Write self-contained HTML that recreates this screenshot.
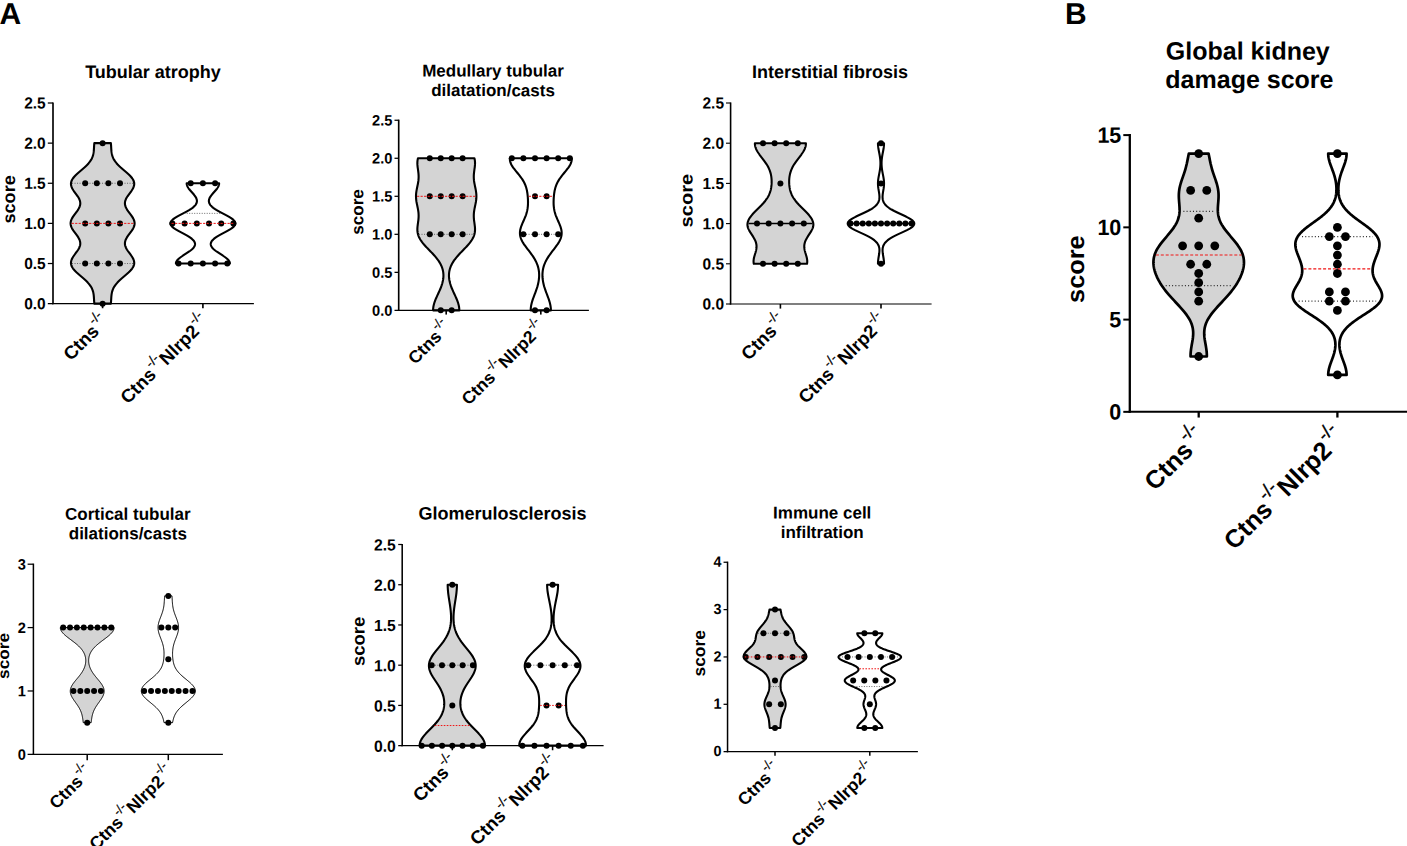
<!DOCTYPE html>
<html><head><meta charset="utf-8"><title>Figure</title>
<style>
html,body{margin:0;padding:0;background:#fff;}
svg{display:block;font-family:"Liberation Sans", sans-serif;}
</style></head>
<body>
<svg width="1407" height="846" viewBox="0 0 1407 846">
<rect width="1407" height="846" fill="#fff"/>
<text transform="translate(153 78) rotate(0.05)" font-size="18" text-anchor="middle" font-weight="bold">Tubular atrophy</text>
<text transform="translate(15.1 199.4) rotate(-90.05) scale(1.0226 1)" font-size="17.7" text-anchor="middle" font-weight="bold">score</text>
<path d="M94.34 303.65 L94.24 302.65 L94.16 301.64 L94.09 300.64 L94.04 299.64 L93.98 298.63 L93.92 297.63 L93.85 296.63 L93.76 295.62 L93.64 294.62 L93.49 293.62 L93.29 292.61 L93.05 291.61 L92.75 290.61 L92.39 289.6 L91.96 288.6 L91.45 287.6 L90.87 286.59 L90.21 285.59 L89.47 284.59 L88.65 283.58 L87.76 282.58 L86.8 281.58 L85.78 280.58 L84.7 279.57 L83.58 278.57 L82.43 277.57 L81.26 276.56 L80.08 275.56 L78.92 274.56 L77.78 273.55 L76.69 272.55 L75.65 271.55 L74.69 270.54 L73.82 269.54 L73.04 268.54 L72.38 267.53 L71.84 266.53 L71.42 265.53 L71.14 264.52 L70.99 263.52 L70.98 262.52 L71.1 261.51 L71.34 260.51 L71.69 259.51 L72.15 258.5 L72.7 257.5 L73.33 256.5 L74.02 255.49 L74.74 254.49 L75.49 253.49 L76.23 252.48 L76.96 251.48 L77.66 250.48 L78.3 249.47 L78.87 248.47 L79.36 247.47 L79.76 246.46 L80.05 245.46 L80.22 244.46 L80.28 243.45 L80.22 242.45 L80.04 241.45 L79.75 240.45 L79.36 239.44 L78.86 238.44 L78.29 237.44 L77.64 236.43 L76.94 235.43 L76.2 234.43 L75.45 233.42 L74.69 232.42 L73.95 231.42 L73.25 230.41 L72.6 229.41 L72.02 228.41 L71.53 227.4 L71.13 226.4 L70.84 225.4 L70.66 224.39 L70.6 223.39 L70.66 222.39 L70.84 221.38 L71.13 220.38 L71.53 219.38 L72.02 218.37 L72.6 217.37 L73.25 216.37 L73.95 215.36 L74.69 214.36 L75.45 213.36 L76.2 212.35 L76.94 211.35 L77.64 210.35 L78.29 209.34 L78.86 208.34 L79.36 207.34 L79.75 206.33 L80.04 205.33 L80.22 204.33 L80.28 203.32 L80.22 202.32 L80.05 201.32 L79.76 200.32 L79.36 199.31 L78.87 198.31 L78.3 197.31 L77.66 196.3 L76.96 195.3 L76.23 194.3 L75.49 193.29 L74.74 192.29 L74.02 191.29 L73.33 190.28 L72.7 189.28 L72.15 188.28 L71.69 187.27 L71.34 186.27 L71.1 185.27 L70.98 184.26 L70.99 183.26 L71.14 182.26 L71.42 181.25 L71.84 180.25 L72.38 179.25 L73.04 178.24 L73.82 177.24 L74.69 176.24 L75.65 175.23 L76.69 174.23 L77.78 173.23 L78.92 172.22 L80.08 171.22 L81.26 170.22 L82.43 169.21 L83.58 168.21 L84.7 167.21 L85.78 166.2 L86.8 165.2 L87.76 164.2 L88.65 163.19 L89.47 162.19 L90.21 161.19 L90.87 160.19 L91.45 159.18 L91.96 158.18 L92.39 157.18 L92.75 156.17 L93.05 155.17 L93.29 154.17 L93.49 153.16 L93.64 152.16 L93.76 151.16 L93.85 150.15 L93.92 149.15 L93.98 148.15 L94.04 147.14 L94.09 146.14 L94.16 145.14 L94.24 144.13 L94.34 143.13 L110.86 143.13 L110.96 144.13 L111.04 145.14 L111.11 146.14 L111.16 147.14 L111.22 148.15 L111.28 149.15 L111.35 150.15 L111.44 151.16 L111.56 152.16 L111.71 153.16 L111.91 154.17 L112.15 155.17 L112.45 156.17 L112.81 157.18 L113.24 158.18 L113.75 159.18 L114.33 160.19 L114.99 161.19 L115.73 162.19 L116.55 163.19 L117.44 164.2 L118.4 165.2 L119.42 166.2 L120.5 167.21 L121.62 168.21 L122.77 169.21 L123.94 170.22 L125.12 171.22 L126.28 172.22 L127.42 173.23 L128.51 174.23 L129.55 175.23 L130.51 176.24 L131.38 177.24 L132.16 178.24 L132.82 179.25 L133.36 180.25 L133.78 181.25 L134.06 182.26 L134.21 183.26 L134.22 184.26 L134.1 185.27 L133.86 186.27 L133.51 187.27 L133.05 188.28 L132.5 189.28 L131.87 190.28 L131.18 191.29 L130.46 192.29 L129.71 193.29 L128.97 194.3 L128.24 195.3 L127.54 196.3 L126.9 197.31 L126.33 198.31 L125.84 199.31 L125.44 200.32 L125.15 201.32 L124.98 202.32 L124.92 203.32 L124.98 204.33 L125.16 205.33 L125.45 206.33 L125.84 207.34 L126.34 208.34 L126.91 209.34 L127.56 210.35 L128.26 211.35 L129 212.35 L129.75 213.36 L130.51 214.36 L131.25 215.36 L131.95 216.37 L132.6 217.37 L133.18 218.37 L133.67 219.38 L134.07 220.38 L134.36 221.38 L134.54 222.39 L134.6 223.39 L134.54 224.39 L134.36 225.4 L134.07 226.4 L133.67 227.4 L133.18 228.41 L132.6 229.41 L131.95 230.41 L131.25 231.42 L130.51 232.42 L129.75 233.42 L129 234.43 L128.26 235.43 L127.56 236.43 L126.91 237.44 L126.34 238.44 L125.84 239.44 L125.45 240.45 L125.16 241.45 L124.98 242.45 L124.92 243.45 L124.98 244.46 L125.15 245.46 L125.44 246.46 L125.84 247.47 L126.33 248.47 L126.9 249.47 L127.54 250.48 L128.24 251.48 L128.97 252.48 L129.71 253.49 L130.46 254.49 L131.18 255.49 L131.87 256.5 L132.5 257.5 L133.05 258.5 L133.51 259.51 L133.86 260.51 L134.1 261.51 L134.22 262.52 L134.21 263.52 L134.06 264.52 L133.78 265.53 L133.36 266.53 L132.82 267.53 L132.16 268.54 L131.38 269.54 L130.51 270.54 L129.55 271.55 L128.51 272.55 L127.42 273.55 L126.28 274.56 L125.12 275.56 L123.94 276.56 L122.77 277.57 L121.62 278.57 L120.5 279.57 L119.42 280.58 L118.4 281.58 L117.44 282.58 L116.55 283.58 L115.73 284.59 L114.99 285.59 L114.33 286.59 L113.75 287.6 L113.24 288.6 L112.81 289.6 L112.45 290.61 L112.15 291.61 L111.91 292.61 L111.71 293.62 L111.56 294.62 L111.44 295.62 L111.35 296.63 L111.28 297.63 L111.22 298.63 L111.16 299.64 L111.11 300.64 L111.04 301.64 L110.96 302.65 L110.86 303.65 Z" fill="#d4d4d4" stroke="#000" stroke-width="2.1" stroke-linejoin="round"/>
<line x1="72.04" y1="183.26" x2="133.16" y2="183.26" stroke="#505050" stroke-width="0.85" stroke-dasharray="1 1.5"/>
<line x1="72.04" y1="263.52" x2="133.16" y2="263.52" stroke="#505050" stroke-width="0.85" stroke-dasharray="1 1.5"/>
<circle cx="102.6" cy="143.13" r="3.0"/>
<circle cx="85.2" cy="183.26" r="3.0"/>
<circle cx="96.8" cy="183.26" r="3.0"/>
<circle cx="108.4" cy="183.26" r="3.0"/>
<circle cx="120" cy="183.26" r="3.0"/>
<circle cx="85.2" cy="223.39" r="3.0"/>
<circle cx="96.8" cy="223.39" r="3.0"/>
<circle cx="108.4" cy="223.39" r="3.0"/>
<circle cx="120" cy="223.39" r="3.0"/>
<circle cx="85.2" cy="263.52" r="3.0"/>
<circle cx="96.8" cy="263.52" r="3.0"/>
<circle cx="108.4" cy="263.52" r="3.0"/>
<circle cx="120" cy="263.52" r="3.0"/>
<circle cx="102.6" cy="303.65" r="3.0"/>
<line x1="71.65" y1="223.39" x2="133.55" y2="223.39" stroke="#f01414" stroke-width="1" stroke-dasharray="2.2 1.3"/>
<path d="M175.9 263.52 L175.93 263.02 L176.03 262.52 L176.2 262.02 L176.43 261.51 L176.72 261.01 L177.08 260.51 L177.49 260.01 L177.96 259.51 L178.47 259.01 L179.04 258.5 L179.65 258 L180.29 257.5 L180.97 257 L181.68 256.5 L182.42 256 L183.17 255.49 L183.93 254.99 L184.7 254.49 L185.48 253.99 L186.25 253.49 L187.01 252.99 L187.77 252.48 L188.5 251.98 L189.22 251.48 L189.91 250.98 L190.56 250.48 L191.19 249.98 L191.78 249.47 L192.33 248.97 L192.83 248.47 L193.29 247.97 L193.7 247.47 L194.05 246.97 L194.36 246.46 L194.61 245.96 L194.8 245.46 L194.94 244.96 L195.02 244.46 L195.04 243.96 L194.99 243.45 L194.89 242.95 L194.73 242.45 L194.5 241.95 L194.22 241.45 L193.88 240.95 L193.48 240.45 L193.02 239.94 L192.51 239.44 L191.94 238.94 L191.32 238.44 L190.66 237.94 L189.95 237.44 L189.19 236.93 L188.4 236.43 L187.57 235.93 L186.71 235.43 L185.82 234.93 L184.91 234.43 L183.98 233.92 L183.05 233.42 L182.1 232.92 L181.16 232.42 L180.22 231.92 L179.29 231.42 L178.38 230.91 L177.49 230.41 L176.63 229.91 L175.81 229.41 L175.03 228.91 L174.29 228.41 L173.61 227.9 L172.98 227.4 L172.42 226.9 L171.92 226.4 L171.49 225.9 L171.14 225.4 L170.86 224.89 L170.66 224.39 L170.54 223.89 L170.5 223.39 L170.54 222.89 L170.66 222.39 L170.86 221.89 L171.15 221.38 L171.5 220.88 L171.93 220.38 L172.43 219.88 L173 219.38 L173.63 218.88 L174.31 218.37 L175.05 217.87 L175.84 217.37 L176.67 216.87 L177.53 216.37 L178.43 215.87 L179.35 215.36 L180.29 214.86 L181.24 214.36 L182.2 213.86 L183.16 213.36 L184.12 212.86 L185.07 212.35 L186 211.85 L186.92 211.35 L187.81 210.85 L188.67 210.35 L189.51 209.85 L190.3 209.34 L191.07 208.84 L191.79 208.34 L192.47 207.84 L193.1 207.34 L193.69 206.84 L194.23 206.33 L194.72 205.83 L195.16 205.33 L195.55 204.83 L195.9 204.33 L196.19 203.83 L196.43 203.32 L196.62 202.82 L196.77 202.32 L196.86 201.82 L196.91 201.32 L196.92 200.82 L196.88 200.32 L196.79 199.81 L196.67 199.31 L196.5 198.81 L196.3 198.31 L196.07 197.81 L195.8 197.31 L195.5 196.8 L195.17 196.3 L194.82 195.8 L194.44 195.3 L194.05 194.8 L193.63 194.3 L193.21 193.79 L192.77 193.29 L192.33 192.79 L191.88 192.29 L191.43 191.79 L190.99 191.29 L190.55 190.78 L190.12 190.28 L189.7 189.78 L189.3 189.28 L188.92 188.78 L188.56 188.28 L188.22 187.77 L187.91 187.27 L187.64 186.77 L187.39 186.27 L187.18 185.77 L187.01 185.27 L186.87 184.76 L186.77 184.26 L186.71 183.76 L186.7 183.26 L219.1 183.26 L219.09 183.76 L219.03 184.26 L218.93 184.76 L218.79 185.27 L218.62 185.77 L218.41 186.27 L218.16 186.77 L217.89 187.27 L217.58 187.77 L217.24 188.28 L216.88 188.78 L216.5 189.28 L216.1 189.78 L215.68 190.28 L215.25 190.78 L214.81 191.29 L214.37 191.79 L213.92 192.29 L213.47 192.79 L213.03 193.29 L212.59 193.79 L212.17 194.3 L211.75 194.8 L211.36 195.3 L210.98 195.8 L210.63 196.3 L210.3 196.8 L210 197.31 L209.73 197.81 L209.5 198.31 L209.3 198.81 L209.13 199.31 L209.01 199.81 L208.92 200.32 L208.88 200.82 L208.89 201.32 L208.94 201.82 L209.03 202.32 L209.18 202.82 L209.37 203.32 L209.61 203.83 L209.9 204.33 L210.25 204.83 L210.64 205.33 L211.08 205.83 L211.57 206.33 L212.11 206.84 L212.7 207.34 L213.33 207.84 L214.01 208.34 L214.73 208.84 L215.5 209.34 L216.29 209.85 L217.13 210.35 L217.99 210.85 L218.88 211.35 L219.8 211.85 L220.73 212.35 L221.68 212.86 L222.64 213.36 L223.6 213.86 L224.56 214.36 L225.51 214.86 L226.45 215.36 L227.37 215.87 L228.27 216.37 L229.13 216.87 L229.96 217.37 L230.75 217.87 L231.49 218.37 L232.17 218.88 L232.8 219.38 L233.37 219.88 L233.87 220.38 L234.3 220.88 L234.65 221.38 L234.94 221.89 L235.14 222.39 L235.26 222.89 L235.3 223.39 L235.26 223.89 L235.14 224.39 L234.94 224.89 L234.66 225.4 L234.31 225.9 L233.88 226.4 L233.38 226.9 L232.82 227.4 L232.19 227.9 L231.51 228.41 L230.77 228.91 L229.99 229.41 L229.17 229.91 L228.31 230.41 L227.42 230.91 L226.51 231.42 L225.58 231.92 L224.64 232.42 L223.7 232.92 L222.75 233.42 L221.82 233.92 L220.89 234.43 L219.98 234.93 L219.09 235.43 L218.23 235.93 L217.4 236.43 L216.61 236.93 L215.85 237.44 L215.14 237.94 L214.48 238.44 L213.86 238.94 L213.29 239.44 L212.78 239.94 L212.32 240.45 L211.92 240.95 L211.58 241.45 L211.3 241.95 L211.07 242.45 L210.91 242.95 L210.81 243.45 L210.76 243.96 L210.78 244.46 L210.86 244.96 L211 245.46 L211.19 245.96 L211.44 246.46 L211.75 246.97 L212.1 247.47 L212.51 247.97 L212.97 248.47 L213.47 248.97 L214.02 249.47 L214.61 249.98 L215.24 250.48 L215.89 250.98 L216.58 251.48 L217.3 251.98 L218.03 252.48 L218.79 252.99 L219.55 253.49 L220.32 253.99 L221.1 254.49 L221.87 254.99 L222.63 255.49 L223.38 256 L224.12 256.5 L224.83 257 L225.51 257.5 L226.15 258 L226.76 258.5 L227.33 259.01 L227.84 259.51 L228.31 260.01 L228.72 260.51 L229.08 261.01 L229.37 261.51 L229.6 262.02 L229.77 262.52 L229.87 263.02 L229.9 263.52 Z" fill="#fff" stroke="#000" stroke-width="2.1" stroke-linejoin="round"/>
<line x1="184.21" y1="213.36" x2="221.59" y2="213.36" stroke="#505050" stroke-width="0.85" stroke-dasharray="1 1.5"/>
<circle cx="190.7" cy="183.26" r="3.0"/>
<circle cx="202.9" cy="183.26" r="3.0"/>
<circle cx="215.1" cy="183.26" r="3.0"/>
<circle cx="172.4" cy="223.39" r="3.0"/>
<circle cx="184.6" cy="223.39" r="3.0"/>
<circle cx="196.8" cy="223.39" r="3.0"/>
<circle cx="209" cy="223.39" r="3.0"/>
<circle cx="221.2" cy="223.39" r="3.0"/>
<circle cx="233.4" cy="223.39" r="3.0"/>
<circle cx="178.5" cy="263.52" r="3.0"/>
<circle cx="190.7" cy="263.52" r="3.0"/>
<circle cx="202.9" cy="263.52" r="3.0"/>
<circle cx="215.1" cy="263.52" r="3.0"/>
<circle cx="227.3" cy="263.52" r="3.0"/>
<line x1="171.55" y1="223.39" x2="234.25" y2="223.39" stroke="#f01414" stroke-width="1" stroke-dasharray="2.2 1.3"/>
<line x1="53" y1="102.38" x2="53" y2="304.27" stroke="#000" stroke-width="1.65"/>
<line x1="52.17" y1="303.65" x2="253.9" y2="303.65" stroke="#000" stroke-width="1.25"/>
<line x1="47.8" y1="303.65" x2="53" y2="303.65" stroke="#000" stroke-width="1.25"/>
<text transform="translate(45.7 309.26) rotate(0.05) scale(1 1.03)" font-size="15.5" text-anchor="end" font-weight="bold">0.0</text>
<line x1="47.8" y1="263.52" x2="53" y2="263.52" stroke="#000" stroke-width="1.25"/>
<text transform="translate(45.7 269.13) rotate(0.05) scale(1 1.03)" font-size="15.5" text-anchor="end" font-weight="bold">0.5</text>
<line x1="47.8" y1="223.39" x2="53" y2="223.39" stroke="#000" stroke-width="1.25"/>
<text transform="translate(45.7 229) rotate(0.05) scale(1 1.03)" font-size="15.5" text-anchor="end" font-weight="bold">1.0</text>
<line x1="47.8" y1="183.26" x2="53" y2="183.26" stroke="#000" stroke-width="1.25"/>
<text transform="translate(45.7 188.87) rotate(0.05) scale(1 1.03)" font-size="15.5" text-anchor="end" font-weight="bold">1.5</text>
<line x1="47.8" y1="143.13" x2="53" y2="143.13" stroke="#000" stroke-width="1.25"/>
<text transform="translate(45.7 148.74) rotate(0.05) scale(1 1.03)" font-size="15.5" text-anchor="end" font-weight="bold">2.0</text>
<line x1="47.8" y1="103" x2="53" y2="103" stroke="#000" stroke-width="1.25"/>
<text transform="translate(45.7 108.61) rotate(0.05) scale(1 1.03)" font-size="15.5" text-anchor="end" font-weight="bold">2.5</text>
<line x1="102.6" y1="303.65" x2="102.6" y2="308.25" stroke="#000" stroke-width="1.65"/>
<text transform="translate(109.6 322.85) rotate(-45)" font-size="18.5" text-anchor="end" font-weight="bold">Ctns<tspan font-weight="normal" stroke="#000" stroke-width="0.2" font-size="13.6" dx="0.74" dy="-9.62">-/-</tspan></text>
<line x1="202.9" y1="303.65" x2="202.9" y2="308.25" stroke="#000" stroke-width="1.65"/>
<text transform="translate(209.9 322.85) rotate(-45)" font-size="18.5" text-anchor="end" font-weight="bold">Ctns<tspan font-weight="normal" stroke="#000" stroke-width="0.2" font-size="13.6" dx="0.74" dy="-9.62">-/-</tspan><tspan dx="0.37" dy="9.62">Nlrp2</tspan><tspan font-weight="normal" stroke="#000" stroke-width="0.2" font-size="13.6" dx="0.74" dy="-9.62">-/-</tspan></text>
<text transform="translate(493 76.52) rotate(0.05)" font-size="17" text-anchor="middle" font-weight="bold">Medullary tubular</text>
<text transform="translate(493 96.12) rotate(0.05)" font-size="17" text-anchor="middle" font-weight="bold">dilatation/casts</text>
<text transform="translate(363.2 212) rotate(-90.05) scale(1.0000 1)" font-size="17.1" text-anchor="middle" font-weight="bold">score</text>
<path d="M433.08 310.37 L433.1 309.42 L433.17 308.47 L433.27 307.52 L433.41 306.57 L433.6 305.62 L433.82 304.67 L434.08 303.72 L434.36 302.77 L434.68 301.81 L435.03 300.86 L435.4 299.91 L435.79 298.96 L436.2 298.01 L436.62 297.06 L437.05 296.11 L437.49 295.16 L437.93 294.21 L438.37 293.26 L438.81 292.31 L439.24 291.36 L439.67 290.41 L440.08 289.46 L440.48 288.51 L440.86 287.56 L441.22 286.61 L441.56 285.65 L441.87 284.7 L442.17 283.75 L442.43 282.8 L442.67 281.85 L442.87 280.9 L443.05 279.95 L443.2 279 L443.31 278.05 L443.39 277.1 L443.43 276.15 L443.43 275.2 L443.4 274.25 L443.33 273.3 L443.23 272.35 L443.08 271.4 L442.89 270.44 L442.66 269.49 L442.38 268.54 L442.07 267.59 L441.71 266.64 L441.3 265.69 L440.85 264.74 L440.36 263.79 L439.82 262.84 L439.24 261.89 L438.62 260.94 L437.95 259.99 L437.25 259.04 L436.51 258.09 L435.73 257.14 L434.92 256.19 L434.08 255.24 L433.21 254.28 L432.33 253.33 L431.42 252.38 L430.51 251.43 L429.59 250.48 L428.66 249.53 L427.74 248.58 L426.83 247.63 L425.94 246.68 L425.07 245.73 L424.22 244.78 L423.41 243.83 L422.63 242.88 L421.9 241.93 L421.22 240.98 L420.58 240.03 L420 239.07 L419.48 238.12 L419.02 237.17 L418.61 236.22 L418.27 235.27 L417.98 234.32 L417.75 233.37 L417.58 232.42 L417.46 231.47 L417.39 230.52 L417.37 229.57 L417.38 228.62 L417.43 227.67 L417.51 226.72 L417.61 225.77 L417.73 224.82 L417.86 223.87 L417.99 222.91 L418.12 221.96 L418.25 221.01 L418.36 220.06 L418.46 219.11 L418.53 218.16 L418.59 217.21 L418.61 216.26 L418.61 215.31 L418.58 214.36 L418.52 213.41 L418.44 212.46 L418.33 211.51 L418.19 210.56 L418.03 209.61 L417.86 208.66 L417.67 207.71 L417.48 206.75 L417.28 205.8 L417.07 204.85 L416.88 203.9 L416.7 202.95 L416.52 202 L416.37 201.05 L416.24 200.1 L416.14 199.15 L416.06 198.2 L416.02 197.25 L416 196.3 L416.02 195.35 L416.06 194.4 L416.14 193.45 L416.24 192.5 L416.37 191.55 L416.52 190.59 L416.7 189.64 L416.88 188.69 L417.07 187.74 L417.28 186.79 L417.48 185.84 L417.67 184.89 L417.86 183.94 L418.03 182.99 L418.19 182.04 L418.33 181.09 L418.44 180.14 L418.52 179.19 L418.58 178.24 L418.61 177.29 L418.61 176.34 L418.59 175.38 L418.53 174.43 L418.46 173.48 L418.36 172.53 L418.25 171.58 L418.12 170.63 L417.99 169.68 L417.86 168.73 L417.73 167.78 L417.61 166.83 L417.51 165.88 L417.43 164.93 L417.38 163.98 L417.37 163.03 L417.39 162.08 L417.46 161.13 L417.58 160.18 L417.75 159.22 L417.98 158.27 L474.42 158.27 L474.65 159.22 L474.82 160.18 L474.94 161.13 L475.01 162.08 L475.03 163.03 L475.02 163.98 L474.97 164.93 L474.89 165.88 L474.79 166.83 L474.67 167.78 L474.54 168.73 L474.41 169.68 L474.28 170.63 L474.15 171.58 L474.04 172.53 L473.94 173.48 L473.87 174.43 L473.81 175.38 L473.79 176.34 L473.79 177.29 L473.82 178.24 L473.88 179.19 L473.96 180.14 L474.07 181.09 L474.21 182.04 L474.37 182.99 L474.54 183.94 L474.73 184.89 L474.92 185.84 L475.12 186.79 L475.33 187.74 L475.52 188.69 L475.7 189.64 L475.88 190.59 L476.03 191.55 L476.16 192.5 L476.26 193.45 L476.34 194.4 L476.38 195.35 L476.4 196.3 L476.38 197.25 L476.34 198.2 L476.26 199.15 L476.16 200.1 L476.03 201.05 L475.88 202 L475.7 202.95 L475.52 203.9 L475.33 204.85 L475.12 205.8 L474.92 206.75 L474.73 207.71 L474.54 208.66 L474.37 209.61 L474.21 210.56 L474.07 211.51 L473.96 212.46 L473.88 213.41 L473.82 214.36 L473.79 215.31 L473.79 216.26 L473.81 217.21 L473.87 218.16 L473.94 219.11 L474.04 220.06 L474.15 221.01 L474.28 221.96 L474.41 222.91 L474.54 223.87 L474.67 224.82 L474.79 225.77 L474.89 226.72 L474.97 227.67 L475.02 228.62 L475.03 229.57 L475.01 230.52 L474.94 231.47 L474.82 232.42 L474.65 233.37 L474.42 234.32 L474.13 235.27 L473.79 236.22 L473.38 237.17 L472.92 238.12 L472.4 239.07 L471.82 240.03 L471.18 240.98 L470.5 241.93 L469.77 242.88 L468.99 243.83 L468.18 244.78 L467.33 245.73 L466.46 246.68 L465.57 247.63 L464.66 248.58 L463.74 249.53 L462.81 250.48 L461.89 251.43 L460.98 252.38 L460.07 253.33 L459.19 254.28 L458.32 255.24 L457.48 256.19 L456.67 257.14 L455.89 258.09 L455.15 259.04 L454.45 259.99 L453.78 260.94 L453.16 261.89 L452.58 262.84 L452.04 263.79 L451.55 264.74 L451.1 265.69 L450.69 266.64 L450.33 267.59 L450.02 268.54 L449.74 269.49 L449.51 270.44 L449.32 271.4 L449.17 272.35 L449.07 273.3 L449 274.25 L448.97 275.2 L448.97 276.15 L449.01 277.1 L449.09 278.05 L449.2 279 L449.35 279.95 L449.53 280.9 L449.73 281.85 L449.97 282.8 L450.23 283.75 L450.53 284.7 L450.84 285.65 L451.18 286.61 L451.54 287.56 L451.92 288.51 L452.32 289.46 L452.73 290.41 L453.16 291.36 L453.59 292.31 L454.03 293.26 L454.47 294.21 L454.91 295.16 L455.35 296.11 L455.78 297.06 L456.2 298.01 L456.61 298.96 L457 299.91 L457.37 300.86 L457.72 301.81 L458.04 302.77 L458.32 303.72 L458.58 304.67 L458.8 305.62 L458.99 306.57 L459.13 307.52 L459.23 308.47 L459.3 309.42 L459.32 310.37 Z" fill="#d4d4d4" stroke="#000" stroke-width="2.1" stroke-linejoin="round"/>
<line x1="419.03" y1="234.32" x2="473.37" y2="234.32" stroke="#505050" stroke-width="0.85" stroke-dasharray="1 1.5"/>
<circle cx="429.77" cy="158.27" r="3.0"/>
<circle cx="440.72" cy="158.27" r="3.0"/>
<circle cx="451.68" cy="158.27" r="3.0"/>
<circle cx="462.62" cy="158.27" r="3.0"/>
<circle cx="429.77" cy="196.3" r="3.0"/>
<circle cx="440.72" cy="196.3" r="3.0"/>
<circle cx="451.68" cy="196.3" r="3.0"/>
<circle cx="462.62" cy="196.3" r="3.0"/>
<circle cx="429.77" cy="234.32" r="3.0"/>
<circle cx="440.72" cy="234.32" r="3.0"/>
<circle cx="451.68" cy="234.32" r="3.0"/>
<circle cx="462.62" cy="234.32" r="3.0"/>
<circle cx="440.72" cy="310.37" r="3.0"/>
<circle cx="451.68" cy="310.37" r="3.0"/>
<line x1="417.05" y1="196.3" x2="475.35" y2="196.3" stroke="#f01414" stroke-width="1" stroke-dasharray="2.2 1.3"/>
<path d="M530.7 310.37 L530.72 309.42 L530.77 308.47 L530.86 307.52 L530.98 306.57 L531.13 305.62 L531.32 304.67 L531.54 303.72 L531.78 302.77 L532.05 301.81 L532.33 300.86 L532.64 299.91 L532.97 298.96 L533.3 298.01 L533.65 297.06 L534.01 296.11 L534.37 295.16 L534.73 294.21 L535.09 293.26 L535.44 292.31 L535.79 291.36 L536.13 290.41 L536.46 289.46 L536.78 288.51 L537.08 287.56 L537.37 286.61 L537.63 285.65 L537.88 284.7 L538.11 283.75 L538.32 282.8 L538.51 281.85 L538.67 280.9 L538.81 279.95 L538.93 279 L539.02 278.05 L539.09 277.1 L539.13 276.15 L539.14 275.2 L539.13 274.25 L539.09 273.3 L539.02 272.35 L538.92 271.4 L538.79 270.44 L538.63 269.49 L538.44 268.54 L538.21 267.59 L537.96 266.64 L537.66 265.69 L537.34 264.74 L536.97 263.79 L536.58 262.84 L536.14 261.89 L535.68 260.94 L535.17 259.99 L534.64 259.04 L534.07 258.09 L533.47 257.14 L532.84 256.19 L532.19 255.24 L531.51 254.28 L530.82 253.33 L530.11 252.38 L529.38 251.43 L528.65 250.48 L527.92 249.53 L527.18 248.58 L526.46 247.63 L525.75 246.68 L525.06 245.73 L524.39 244.78 L523.75 243.83 L523.15 242.88 L522.59 241.93 L522.07 240.98 L521.61 240.03 L521.19 239.07 L520.83 238.12 L520.53 237.17 L520.29 236.22 L520.12 235.27 L520 234.32 L519.95 233.37 L519.96 232.42 L520.02 231.47 L520.14 230.52 L520.32 229.57 L520.54 228.62 L520.81 227.67 L521.11 226.72 L521.45 225.77 L521.82 224.82 L522.21 223.87 L522.62 222.91 L523.04 221.96 L523.46 221.01 L523.88 220.06 L524.3 219.11 L524.71 218.16 L525.1 217.21 L525.47 216.26 L525.83 215.31 L526.16 214.36 L526.46 213.41 L526.73 212.46 L526.98 211.51 L527.2 210.56 L527.39 209.61 L527.55 208.66 L527.68 207.71 L527.79 206.75 L527.87 205.8 L527.94 204.85 L527.98 203.9 L528 202.95 L528 202 L527.99 201.05 L527.96 200.1 L527.93 199.15 L527.87 198.2 L527.81 197.25 L527.73 196.3 L527.64 195.35 L527.53 194.4 L527.41 193.45 L527.27 192.5 L527.12 191.55 L526.94 190.59 L526.73 189.64 L526.5 188.69 L526.24 187.74 L525.94 186.79 L525.61 185.84 L525.25 184.89 L524.84 183.94 L524.4 182.99 L523.91 182.04 L523.38 181.09 L522.81 180.14 L522.2 179.19 L521.55 178.24 L520.87 177.29 L520.16 176.34 L519.42 175.38 L518.66 174.43 L517.89 173.48 L517.11 172.53 L516.33 171.58 L515.55 170.63 L514.79 169.68 L514.06 168.73 L513.36 167.78 L512.7 166.83 L512.09 165.88 L511.54 164.93 L511.06 163.98 L510.65 163.03 L510.32 162.08 L510.08 161.13 L509.92 160.18 L509.86 159.22 L509.9 158.27 L571.7 158.27 L571.74 159.22 L571.68 160.18 L571.52 161.13 L571.28 162.08 L570.95 163.03 L570.54 163.98 L570.06 164.93 L569.51 165.88 L568.9 166.83 L568.24 167.78 L567.54 168.73 L566.81 169.68 L566.05 170.63 L565.27 171.58 L564.49 172.53 L563.71 173.48 L562.94 174.43 L562.18 175.38 L561.44 176.34 L560.73 177.29 L560.05 178.24 L559.4 179.19 L558.79 180.14 L558.22 181.09 L557.69 182.04 L557.2 182.99 L556.76 183.94 L556.35 184.89 L555.99 185.84 L555.66 186.79 L555.36 187.74 L555.1 188.69 L554.87 189.64 L554.66 190.59 L554.48 191.55 L554.33 192.5 L554.19 193.45 L554.07 194.4 L553.96 195.35 L553.87 196.3 L553.79 197.25 L553.73 198.2 L553.67 199.15 L553.64 200.1 L553.61 201.05 L553.6 202 L553.6 202.95 L553.62 203.9 L553.66 204.85 L553.73 205.8 L553.81 206.75 L553.92 207.71 L554.05 208.66 L554.21 209.61 L554.4 210.56 L554.62 211.51 L554.87 212.46 L555.14 213.41 L555.44 214.36 L555.77 215.31 L556.13 216.26 L556.5 217.21 L556.89 218.16 L557.3 219.11 L557.72 220.06 L558.14 221.01 L558.56 221.96 L558.98 222.91 L559.39 223.87 L559.78 224.82 L560.15 225.77 L560.49 226.72 L560.79 227.67 L561.06 228.62 L561.28 229.57 L561.46 230.52 L561.58 231.47 L561.64 232.42 L561.65 233.37 L561.6 234.32 L561.48 235.27 L561.31 236.22 L561.07 237.17 L560.77 238.12 L560.41 239.07 L559.99 240.03 L559.53 240.98 L559.01 241.93 L558.45 242.88 L557.85 243.83 L557.21 244.78 L556.54 245.73 L555.85 246.68 L555.14 247.63 L554.42 248.58 L553.68 249.53 L552.95 250.48 L552.22 251.43 L551.49 252.38 L550.78 253.33 L550.09 254.28 L549.41 255.24 L548.76 256.19 L548.13 257.14 L547.53 258.09 L546.96 259.04 L546.43 259.99 L545.92 260.94 L545.46 261.89 L545.02 262.84 L544.63 263.79 L544.26 264.74 L543.94 265.69 L543.64 266.64 L543.39 267.59 L543.16 268.54 L542.97 269.49 L542.81 270.44 L542.68 271.4 L542.58 272.35 L542.51 273.3 L542.47 274.25 L542.46 275.2 L542.47 276.15 L542.51 277.1 L542.58 278.05 L542.67 279 L542.79 279.95 L542.93 280.9 L543.09 281.85 L543.28 282.8 L543.49 283.75 L543.72 284.7 L543.97 285.65 L544.23 286.61 L544.52 287.56 L544.82 288.51 L545.14 289.46 L545.47 290.41 L545.81 291.36 L546.16 292.31 L546.51 293.26 L546.87 294.21 L547.23 295.16 L547.59 296.11 L547.95 297.06 L548.3 298.01 L548.63 298.96 L548.96 299.91 L549.27 300.86 L549.55 301.81 L549.82 302.77 L550.06 303.72 L550.28 304.67 L550.47 305.62 L550.62 306.57 L550.74 307.52 L550.83 308.47 L550.88 309.42 L550.9 310.37 Z" fill="#fff" stroke="#000" stroke-width="2.1" stroke-linejoin="round"/>
<line x1="521.05" y1="234.32" x2="560.55" y2="234.32" stroke="#505050" stroke-width="0.85" stroke-dasharray="1 1.5"/>
<circle cx="511.8" cy="158.27" r="3.0"/>
<circle cx="523.4" cy="158.27" r="3.0"/>
<circle cx="535" cy="158.27" r="3.0"/>
<circle cx="546.6" cy="158.27" r="3.0"/>
<circle cx="558.2" cy="158.27" r="3.0"/>
<circle cx="569.8" cy="158.27" r="3.0"/>
<circle cx="535" cy="196.3" r="3.0"/>
<circle cx="546.6" cy="196.3" r="3.0"/>
<circle cx="523.4" cy="234.32" r="3.0"/>
<circle cx="535" cy="234.32" r="3.0"/>
<circle cx="546.6" cy="234.32" r="3.0"/>
<circle cx="558.2" cy="234.32" r="3.0"/>
<circle cx="535" cy="310.37" r="3.0"/>
<circle cx="546.6" cy="310.37" r="3.0"/>
<line x1="528.78" y1="196.3" x2="552.82" y2="196.3" stroke="#f01414" stroke-width="1" stroke-dasharray="2.2 1.3"/>
<line x1="398.7" y1="119.62" x2="398.7" y2="311" stroke="#000" stroke-width="1.65"/>
<line x1="397.88" y1="310.37" x2="588.9" y2="310.37" stroke="#000" stroke-width="1.25"/>
<line x1="394.5" y1="310.37" x2="398.7" y2="310.37" stroke="#000" stroke-width="1.25"/>
<text transform="translate(392.3 315.67) rotate(0.05) scale(1 1.03)" font-size="14.6" text-anchor="end" font-weight="bold">0.0</text>
<line x1="394.5" y1="272.35" x2="398.7" y2="272.35" stroke="#000" stroke-width="1.25"/>
<text transform="translate(392.3 277.65) rotate(0.05) scale(1 1.03)" font-size="14.6" text-anchor="end" font-weight="bold">0.5</text>
<line x1="394.5" y1="234.32" x2="398.7" y2="234.32" stroke="#000" stroke-width="1.25"/>
<text transform="translate(392.3 239.62) rotate(0.05) scale(1 1.03)" font-size="14.6" text-anchor="end" font-weight="bold">1.0</text>
<line x1="394.5" y1="196.3" x2="398.7" y2="196.3" stroke="#000" stroke-width="1.25"/>
<text transform="translate(392.3 201.6) rotate(0.05) scale(1 1.03)" font-size="14.6" text-anchor="end" font-weight="bold">1.5</text>
<line x1="394.5" y1="158.27" x2="398.7" y2="158.27" stroke="#000" stroke-width="1.25"/>
<text transform="translate(392.3 163.58) rotate(0.05) scale(1 1.03)" font-size="14.6" text-anchor="end" font-weight="bold">2.0</text>
<line x1="394.5" y1="120.25" x2="398.7" y2="120.25" stroke="#000" stroke-width="1.25"/>
<text transform="translate(392.3 125.55) rotate(0.05) scale(1 1.03)" font-size="14.6" text-anchor="end" font-weight="bold">2.5</text>
<line x1="446.2" y1="310.37" x2="446.2" y2="314.57" stroke="#000" stroke-width="1.65"/>
<text transform="translate(451.7 328.57) rotate(-45)" font-size="17.5" text-anchor="end" font-weight="bold">Ctns<tspan font-weight="normal" stroke="#000" stroke-width="0.19" font-size="12.86" dx="0.7" dy="-9.1">-/-</tspan></text>
<line x1="540.8" y1="310.37" x2="540.8" y2="314.57" stroke="#000" stroke-width="1.65"/>
<text transform="translate(546.3 328.57) rotate(-45)" font-size="17.5" text-anchor="end" font-weight="bold">Ctns<tspan font-weight="normal" stroke="#000" stroke-width="0.19" font-size="12.86" dx="0.7" dy="-9.1">-/-</tspan><tspan dx="0.35" dy="9.1">Nlrp2</tspan><tspan font-weight="normal" stroke="#000" stroke-width="0.19" font-size="12.86" dx="0.7" dy="-9.1">-/-</tspan></text>
<text transform="translate(830 78) rotate(0.05)" font-size="18" text-anchor="middle" font-weight="bold">Interstitial fibrosis</text>
<text transform="translate(692.5 200.6) rotate(-90.05) scale(1.1356 1)" font-size="17.7" text-anchor="middle" font-weight="bold">score</text>
<path d="M753.8 263.8 L753.67 263.05 L753.59 262.29 L753.55 261.54 L753.57 260.79 L753.62 260.03 L753.72 259.28 L753.85 258.52 L754.01 257.77 L754.19 257.02 L754.4 256.26 L754.61 255.51 L754.84 254.75 L755.07 254 L755.29 253.25 L755.52 252.49 L755.72 251.74 L755.92 250.99 L756.09 250.23 L756.24 249.48 L756.36 248.72 L756.45 247.97 L756.51 247.22 L756.53 246.46 L756.51 245.71 L756.44 244.96 L756.34 244.2 L756.19 243.45 L755.99 242.69 L755.75 241.94 L755.47 241.19 L755.15 240.43 L754.8 239.68 L754.41 238.93 L754 238.17 L753.55 237.42 L753.09 236.66 L752.62 235.91 L752.13 235.16 L751.64 234.4 L751.14 233.65 L750.66 232.9 L750.18 232.14 L749.73 231.39 L749.3 230.63 L748.9 229.88 L748.53 229.13 L748.21 228.37 L747.94 227.62 L747.72 226.87 L747.56 226.11 L747.47 225.36 L747.43 224.6 L747.47 223.85 L747.58 223.1 L747.74 222.34 L747.95 221.59 L748.22 220.84 L748.54 220.08 L748.91 219.33 L749.33 218.57 L749.79 217.82 L750.31 217.07 L750.86 216.31 L751.45 215.56 L752.08 214.81 L752.74 214.05 L753.43 213.3 L754.14 212.55 L754.87 211.79 L755.62 211.04 L756.37 210.28 L757.14 209.53 L757.9 208.78 L758.67 208.02 L759.43 207.27 L760.18 206.52 L760.92 205.76 L761.65 205.01 L762.35 204.25 L763.04 203.5 L763.71 202.75 L764.35 201.99 L764.96 201.24 L765.55 200.48 L766.1 199.73 L766.63 198.98 L767.13 198.22 L767.6 197.47 L768.03 196.72 L768.44 195.96 L768.82 195.21 L769.17 194.45 L769.49 193.7 L769.78 192.95 L770.05 192.19 L770.29 191.44 L770.51 190.69 L770.71 189.93 L770.88 189.18 L771.03 188.43 L771.17 187.67 L771.28 186.92 L771.38 186.16 L771.46 185.41 L771.53 184.66 L771.58 183.9 L771.61 183.15 L771.63 182.4 L771.64 181.64 L771.63 180.89 L771.61 180.13 L771.57 179.38 L771.51 178.63 L771.44 177.87 L771.35 177.12 L771.25 176.37 L771.12 175.61 L770.98 174.86 L770.81 174.1 L770.63 173.35 L770.42 172.6 L770.19 171.84 L769.94 171.09 L769.67 170.33 L769.37 169.58 L769.04 168.83 L768.7 168.07 L768.32 167.32 L767.93 166.57 L767.51 165.81 L767.06 165.06 L766.6 164.31 L766.11 163.55 L765.6 162.8 L765.08 162.04 L764.54 161.29 L763.99 160.54 L763.43 159.78 L762.86 159.03 L762.29 158.28 L761.71 157.52 L761.13 156.77 L760.56 156.01 L760 155.26 L759.45 154.51 L758.92 153.75 L758.4 153 L757.91 152.25 L757.44 151.49 L757.01 150.74 L756.61 149.98 L756.24 149.23 L755.91 148.48 L755.63 147.72 L755.39 146.97 L755.19 146.22 L755.05 145.46 L754.95 144.71 L754.9 143.95 L754.91 143.2 L805.89 143.2 L805.9 143.95 L805.85 144.71 L805.75 145.46 L805.61 146.22 L805.41 146.97 L805.17 147.72 L804.89 148.48 L804.56 149.23 L804.19 149.98 L803.79 150.74 L803.36 151.49 L802.89 152.25 L802.4 153 L801.88 153.75 L801.35 154.51 L800.8 155.26 L800.24 156.01 L799.67 156.77 L799.09 157.52 L798.51 158.28 L797.94 159.03 L797.37 159.78 L796.81 160.54 L796.26 161.29 L795.72 162.04 L795.2 162.8 L794.69 163.55 L794.2 164.31 L793.74 165.06 L793.29 165.81 L792.87 166.57 L792.48 167.32 L792.1 168.07 L791.76 168.83 L791.43 169.58 L791.13 170.33 L790.86 171.09 L790.61 171.84 L790.38 172.6 L790.17 173.35 L789.99 174.1 L789.82 174.86 L789.68 175.61 L789.55 176.37 L789.45 177.12 L789.36 177.87 L789.29 178.63 L789.23 179.38 L789.19 180.13 L789.17 180.89 L789.16 181.64 L789.17 182.4 L789.19 183.15 L789.22 183.9 L789.27 184.66 L789.34 185.41 L789.42 186.16 L789.52 186.92 L789.63 187.67 L789.77 188.43 L789.92 189.18 L790.09 189.93 L790.29 190.69 L790.51 191.44 L790.75 192.19 L791.02 192.95 L791.31 193.7 L791.63 194.45 L791.98 195.21 L792.36 195.96 L792.77 196.72 L793.2 197.47 L793.67 198.22 L794.17 198.98 L794.7 199.73 L795.25 200.48 L795.84 201.24 L796.45 201.99 L797.09 202.75 L797.76 203.5 L798.45 204.25 L799.15 205.01 L799.88 205.76 L800.62 206.52 L801.37 207.27 L802.13 208.02 L802.9 208.78 L803.66 209.53 L804.43 210.28 L805.18 211.04 L805.93 211.79 L806.66 212.55 L807.37 213.3 L808.06 214.05 L808.72 214.81 L809.35 215.56 L809.94 216.31 L810.49 217.07 L811.01 217.82 L811.47 218.57 L811.89 219.33 L812.26 220.08 L812.58 220.84 L812.85 221.59 L813.06 222.34 L813.22 223.1 L813.33 223.85 L813.37 224.6 L813.33 225.36 L813.24 226.11 L813.08 226.87 L812.86 227.62 L812.59 228.37 L812.27 229.13 L811.9 229.88 L811.5 230.63 L811.07 231.39 L810.62 232.14 L810.14 232.9 L809.66 233.65 L809.16 234.4 L808.67 235.16 L808.18 235.91 L807.71 236.66 L807.25 237.42 L806.8 238.17 L806.39 238.93 L806 239.68 L805.65 240.43 L805.33 241.19 L805.05 241.94 L804.81 242.69 L804.61 243.45 L804.46 244.2 L804.36 244.96 L804.29 245.71 L804.27 246.46 L804.29 247.22 L804.35 247.97 L804.44 248.72 L804.56 249.48 L804.71 250.23 L804.88 250.99 L805.08 251.74 L805.28 252.49 L805.51 253.25 L805.73 254 L805.96 254.75 L806.19 255.51 L806.4 256.26 L806.61 257.02 L806.79 257.77 L806.95 258.52 L807.08 259.28 L807.18 260.03 L807.23 260.79 L807.25 261.54 L807.21 262.29 L807.13 263.05 L807 263.8 Z" fill="#d4d4d4" stroke="#000" stroke-width="2.1" stroke-linejoin="round"/>
<circle cx="763" cy="143.2" r="3.0"/>
<circle cx="774.6" cy="143.2" r="3.0"/>
<circle cx="786.2" cy="143.2" r="3.0"/>
<circle cx="797.8" cy="143.2" r="3.0"/>
<circle cx="780.4" cy="183.4" r="3.0"/>
<circle cx="757" cy="223.6" r="3.0"/>
<circle cx="768.7" cy="223.6" r="3.0"/>
<circle cx="780.4" cy="223.6" r="3.0"/>
<circle cx="792.1" cy="223.6" r="3.0"/>
<circle cx="803.8" cy="223.6" r="3.0"/>
<circle cx="763" cy="263.8" r="3.0"/>
<circle cx="774.6" cy="263.8" r="3.0"/>
<circle cx="786.2" cy="263.8" r="3.0"/>
<circle cx="797.8" cy="263.8" r="3.0"/>
<line x1="748.55" y1="223.6" x2="812.25" y2="223.6" stroke="#000" stroke-width="1.5"/>
<path d="M877.97 263.8 L877.98 263.05 L878.01 262.29 L878.05 261.54 L878.12 260.79 L878.2 260.03 L878.29 259.28 L878.4 258.52 L878.52 257.77 L878.64 257.02 L878.76 256.26 L878.89 255.51 L879.01 254.75 L879.12 254 L879.23 253.25 L879.31 252.49 L879.38 251.74 L879.43 250.99 L879.44 250.23 L879.43 249.48 L879.37 248.72 L879.27 247.97 L879.12 247.22 L878.91 246.46 L878.64 245.71 L878.31 244.96 L877.9 244.2 L877.41 243.45 L876.83 242.69 L876.16 241.94 L875.39 241.19 L874.53 240.43 L873.56 239.68 L872.49 238.93 L871.32 238.17 L870.05 237.42 L868.69 236.66 L867.25 235.91 L865.73 235.16 L864.16 234.4 L862.54 233.65 L860.9 232.9 L859.26 232.14 L857.64 231.39 L856.06 230.63 L854.56 229.88 L853.15 229.13 L851.85 228.37 L850.7 227.62 L849.71 226.87 L848.91 226.11 L848.3 225.36 L847.9 224.6 L847.71 223.85 L847.75 223.1 L848.01 222.34 L848.48 221.59 L849.15 220.84 L850.02 220.08 L851.07 219.33 L852.27 218.57 L853.61 217.82 L855.05 217.07 L856.58 216.31 L858.18 215.56 L859.81 214.81 L861.45 214.05 L863.08 213.3 L864.69 212.55 L866.24 211.79 L867.73 211.04 L869.15 210.28 L870.48 209.53 L871.72 208.78 L872.86 208.02 L873.89 207.27 L874.83 206.52 L875.66 205.76 L876.39 205.01 L877.03 204.25 L877.58 203.5 L878.04 202.75 L878.43 201.99 L878.74 201.24 L878.99 200.48 L879.17 199.73 L879.31 198.98 L879.39 198.22 L879.44 197.47 L879.44 196.72 L879.42 195.96 L879.36 195.21 L879.29 194.45 L879.19 193.7 L879.09 192.95 L878.97 192.19 L878.85 191.44 L878.72 190.69 L878.6 189.93 L878.48 189.18 L878.36 188.43 L878.26 187.67 L878.17 186.92 L878.1 186.16 L878.04 185.41 L878 184.66 L877.97 183.9 L877.97 183.15 L877.99 182.4 L878.03 181.64 L878.08 180.89 L878.15 180.13 L878.24 179.38 L878.35 178.63 L878.47 177.87 L878.59 177.12 L878.73 176.37 L878.87 175.61 L879.02 174.86 L879.16 174.1 L879.31 173.35 L879.45 172.6 L879.59 171.84 L879.72 171.09 L879.84 170.33 L879.96 169.58 L880.06 168.83 L880.15 168.07 L880.23 167.32 L880.3 166.57 L880.35 165.81 L880.39 165.06 L880.42 164.31 L880.43 163.55 L880.43 162.8 L880.41 162.04 L880.38 161.29 L880.34 160.54 L880.28 159.78 L880.21 159.03 L880.12 158.28 L880.03 157.52 L879.92 156.77 L879.8 156.01 L879.68 155.26 L879.54 154.51 L879.4 153.75 L879.26 153 L879.11 152.25 L878.97 151.49 L878.82 150.74 L878.68 149.98 L878.55 149.23 L878.43 148.48 L878.31 147.72 L878.21 146.97 L878.13 146.22 L878.06 145.46 L878.01 144.71 L877.98 143.95 L877.97 143.2 L884.03 143.2 L884.02 143.95 L883.99 144.71 L883.94 145.46 L883.87 146.22 L883.79 146.97 L883.69 147.72 L883.57 148.48 L883.45 149.23 L883.32 149.98 L883.18 150.74 L883.03 151.49 L882.89 152.25 L882.74 153 L882.6 153.75 L882.46 154.51 L882.32 155.26 L882.2 156.01 L882.08 156.77 L881.97 157.52 L881.88 158.28 L881.79 159.03 L881.72 159.78 L881.66 160.54 L881.62 161.29 L881.59 162.04 L881.57 162.8 L881.57 163.55 L881.58 164.31 L881.61 165.06 L881.65 165.81 L881.7 166.57 L881.77 167.32 L881.85 168.07 L881.94 168.83 L882.04 169.58 L882.16 170.33 L882.28 171.09 L882.41 171.84 L882.55 172.6 L882.69 173.35 L882.84 174.1 L882.98 174.86 L883.13 175.61 L883.27 176.37 L883.41 177.12 L883.53 177.87 L883.65 178.63 L883.76 179.38 L883.85 180.13 L883.92 180.89 L883.97 181.64 L884.01 182.4 L884.03 183.15 L884.03 183.9 L884 184.66 L883.96 185.41 L883.9 186.16 L883.83 186.92 L883.74 187.67 L883.64 188.43 L883.52 189.18 L883.4 189.93 L883.28 190.69 L883.15 191.44 L883.03 192.19 L882.91 192.95 L882.81 193.7 L882.71 194.45 L882.64 195.21 L882.58 195.96 L882.56 196.72 L882.56 197.47 L882.61 198.22 L882.69 198.98 L882.83 199.73 L883.01 200.48 L883.26 201.24 L883.57 201.99 L883.96 202.75 L884.42 203.5 L884.97 204.25 L885.61 205.01 L886.34 205.76 L887.17 206.52 L888.11 207.27 L889.14 208.02 L890.28 208.78 L891.52 209.53 L892.85 210.28 L894.27 211.04 L895.76 211.79 L897.31 212.55 L898.92 213.3 L900.55 214.05 L902.19 214.81 L903.82 215.56 L905.42 216.31 L906.95 217.07 L908.39 217.82 L909.73 218.57 L910.93 219.33 L911.98 220.08 L912.85 220.84 L913.52 221.59 L913.99 222.34 L914.25 223.1 L914.29 223.85 L914.1 224.6 L913.7 225.36 L913.09 226.11 L912.29 226.87 L911.3 227.62 L910.15 228.37 L908.85 229.13 L907.44 229.88 L905.94 230.63 L904.36 231.39 L902.74 232.14 L901.1 232.9 L899.46 233.65 L897.84 234.4 L896.27 235.16 L894.75 235.91 L893.31 236.66 L891.95 237.42 L890.68 238.17 L889.51 238.93 L888.44 239.68 L887.47 240.43 L886.61 241.19 L885.84 241.94 L885.17 242.69 L884.59 243.45 L884.1 244.2 L883.69 244.96 L883.36 245.71 L883.09 246.46 L882.88 247.22 L882.73 247.97 L882.63 248.72 L882.57 249.48 L882.56 250.23 L882.57 250.99 L882.62 251.74 L882.69 252.49 L882.77 253.25 L882.88 254 L882.99 254.75 L883.11 255.51 L883.24 256.26 L883.36 257.02 L883.48 257.77 L883.6 258.52 L883.71 259.28 L883.8 260.03 L883.88 260.79 L883.95 261.54 L883.99 262.29 L884.02 263.05 L884.03 263.8 Z" fill="#fff" stroke="#000" stroke-width="2.1" stroke-linejoin="round"/>
<circle cx="881" cy="143.2" r="3.0"/>
<circle cx="881" cy="183.4" r="3.0"/>
<circle cx="850.5" cy="223.6" r="3.0"/>
<circle cx="856.6" cy="223.6" r="3.0"/>
<circle cx="862.7" cy="223.6" r="3.0"/>
<circle cx="868.8" cy="223.6" r="3.0"/>
<circle cx="874.9" cy="223.6" r="3.0"/>
<circle cx="881" cy="223.6" r="3.0"/>
<circle cx="887.1" cy="223.6" r="3.0"/>
<circle cx="893.2" cy="223.6" r="3.0"/>
<circle cx="899.3" cy="223.6" r="3.0"/>
<circle cx="905.4" cy="223.6" r="3.0"/>
<circle cx="911.5" cy="223.6" r="3.0"/>
<circle cx="881" cy="263.8" r="3.0"/>
<line x1="848.75" y1="223.6" x2="913.25" y2="223.6" stroke="#000" stroke-width="1.5"/>
<line x1="730.6" y1="102.44" x2="730.6" y2="304.56" stroke="#000" stroke-width="1.6"/>
<line x1="729.8" y1="304" x2="931.6" y2="304" stroke="#000" stroke-width="1.12"/>
<line x1="726" y1="304" x2="730.6" y2="304" stroke="#000" stroke-width="1.12"/>
<text transform="translate(724 309.61) rotate(0.05) scale(1 1.03)" font-size="15.5" text-anchor="end" font-weight="bold">0.0</text>
<line x1="726" y1="263.8" x2="730.6" y2="263.8" stroke="#000" stroke-width="1.12"/>
<text transform="translate(724 269.41) rotate(0.05) scale(1 1.03)" font-size="15.5" text-anchor="end" font-weight="bold">0.5</text>
<line x1="726" y1="223.6" x2="730.6" y2="223.6" stroke="#000" stroke-width="1.12"/>
<text transform="translate(724 229.21) rotate(0.05) scale(1 1.03)" font-size="15.5" text-anchor="end" font-weight="bold">1.0</text>
<line x1="726" y1="183.4" x2="730.6" y2="183.4" stroke="#000" stroke-width="1.12"/>
<text transform="translate(724 189.01) rotate(0.05) scale(1 1.03)" font-size="15.5" text-anchor="end" font-weight="bold">1.5</text>
<line x1="726" y1="143.2" x2="730.6" y2="143.2" stroke="#000" stroke-width="1.12"/>
<text transform="translate(724 148.81) rotate(0.05) scale(1 1.03)" font-size="15.5" text-anchor="end" font-weight="bold">2.0</text>
<line x1="726" y1="103" x2="730.6" y2="103" stroke="#000" stroke-width="1.12"/>
<text transform="translate(724 108.61) rotate(0.05) scale(1 1.03)" font-size="15.5" text-anchor="end" font-weight="bold">2.5</text>
<line x1="780.4" y1="304" x2="780.4" y2="308.6" stroke="#000" stroke-width="1.6"/>
<text transform="translate(787.4 322.6) rotate(-45)" font-size="18.5" text-anchor="end" font-weight="bold">Ctns<tspan font-weight="normal" stroke="#000" stroke-width="0.2" font-size="13.6" dx="0.74" dy="-9.62">-/-</tspan></text>
<line x1="881" y1="304" x2="881" y2="308.6" stroke="#000" stroke-width="1.6"/>
<text transform="translate(888 322.6) rotate(-45)" font-size="18.5" text-anchor="end" font-weight="bold">Ctns<tspan font-weight="normal" stroke="#000" stroke-width="0.2" font-size="13.6" dx="0.74" dy="-9.62">-/-</tspan><tspan dx="0.37" dy="9.62">Nlrp2</tspan><tspan font-weight="normal" stroke="#000" stroke-width="0.2" font-size="13.6" dx="0.74" dy="-9.62">-/-</tspan></text>
<text transform="translate(127.8 519.75) rotate(0.05)" font-size="17" text-anchor="middle" font-weight="bold">Cortical tubular</text>
<text transform="translate(127.8 539.35) rotate(0.05)" font-size="17" text-anchor="middle" font-weight="bold">dilations/casts</text>
<text transform="translate(9 655.9) rotate(-90.05) scale(1.0849 1)" font-size="15.9" text-anchor="middle" font-weight="bold">score</text>
<path d="M83.26 722.67 L83.19 722.08 L83.11 721.49 L83.04 720.89 L82.96 720.3 L82.88 719.7 L82.8 719.11 L82.71 718.52 L82.61 717.92 L82.51 717.33 L82.4 716.73 L82.28 716.14 L82.15 715.54 L82.01 714.95 L81.85 714.36 L81.68 713.76 L81.5 713.17 L81.3 712.57 L81.09 711.98 L80.85 711.38 L80.61 710.79 L80.34 710.2 L80.06 709.6 L79.76 709.01 L79.44 708.41 L79.11 707.82 L78.76 707.22 L78.4 706.63 L78.02 706.04 L77.63 705.44 L77.23 704.85 L76.82 704.25 L76.4 703.66 L75.98 703.06 L75.55 702.47 L75.13 701.88 L74.7 701.28 L74.28 700.69 L73.87 700.09 L73.47 699.5 L73.08 698.9 L72.7 698.31 L72.35 697.72 L72.01 697.12 L71.7 696.53 L71.41 695.93 L71.15 695.34 L70.92 694.74 L70.73 694.15 L70.56 693.56 L70.43 692.96 L70.34 692.37 L70.29 691.77 L70.27 691.18 L70.29 690.58 L70.35 689.99 L70.45 689.4 L70.58 688.8 L70.75 688.21 L70.96 687.61 L71.2 687.02 L71.48 686.42 L71.78 685.83 L72.12 685.24 L72.48 684.64 L72.87 684.05 L73.28 683.45 L73.71 682.86 L74.16 682.26 L74.62 681.67 L75.09 681.08 L75.58 680.48 L76.07 679.89 L76.56 679.29 L77.06 678.7 L77.56 678.1 L78.05 677.51 L78.54 676.92 L79.02 676.32 L79.49 675.73 L79.95 675.13 L80.4 674.54 L80.83 673.94 L81.25 673.35 L81.66 672.76 L82.05 672.16 L82.42 671.57 L82.77 670.97 L83.1 670.38 L83.41 669.78 L83.71 669.19 L83.98 668.6 L84.23 668 L84.47 667.41 L84.68 666.81 L84.88 666.22 L85.05 665.62 L85.2 665.03 L85.34 664.44 L85.46 663.84 L85.55 663.25 L85.63 662.65 L85.69 662.06 L85.73 661.46 L85.75 660.87 L85.75 660.28 L85.73 659.68 L85.69 659.09 L85.62 658.49 L85.54 657.9 L85.44 657.3 L85.31 656.71 L85.17 656.12 L84.99 655.52 L84.8 654.93 L84.58 654.33 L84.33 653.74 L84.06 653.14 L83.76 652.55 L83.43 651.96 L83.08 651.36 L82.7 650.77 L82.28 650.17 L81.84 649.58 L81.37 648.98 L80.87 648.39 L80.34 647.8 L79.78 647.2 L79.19 646.61 L78.58 646.01 L77.93 645.42 L77.26 644.82 L76.57 644.23 L75.86 643.64 L75.13 643.04 L74.37 642.45 L73.61 641.85 L72.83 641.26 L72.04 640.66 L71.25 640.07 L70.46 639.48 L69.67 638.88 L68.88 638.29 L68.1 637.69 L67.34 637.1 L66.6 636.5 L65.88 635.91 L65.18 635.32 L64.52 634.72 L63.9 634.13 L63.31 633.53 L62.76 632.94 L62.27 632.34 L61.82 631.75 L61.42 631.16 L61.09 630.56 L60.81 629.97 L60.59 629.37 L60.43 628.78 L60.33 628.18 L60.3 627.59 L114.1 627.59 L114.07 628.18 L113.97 628.78 L113.81 629.37 L113.59 629.97 L113.31 630.56 L112.98 631.16 L112.58 631.75 L112.13 632.34 L111.64 632.94 L111.09 633.53 L110.5 634.13 L109.88 634.72 L109.22 635.32 L108.52 635.91 L107.8 636.5 L107.06 637.1 L106.3 637.69 L105.52 638.29 L104.73 638.88 L103.94 639.48 L103.15 640.07 L102.36 640.66 L101.57 641.26 L100.79 641.85 L100.03 642.45 L99.27 643.04 L98.54 643.64 L97.83 644.23 L97.14 644.82 L96.47 645.42 L95.82 646.01 L95.21 646.61 L94.62 647.2 L94.06 647.8 L93.53 648.39 L93.03 648.98 L92.56 649.58 L92.12 650.17 L91.7 650.77 L91.32 651.36 L90.97 651.96 L90.64 652.55 L90.34 653.14 L90.07 653.74 L89.82 654.33 L89.6 654.93 L89.41 655.52 L89.23 656.12 L89.09 656.71 L88.96 657.3 L88.86 657.9 L88.78 658.49 L88.71 659.09 L88.67 659.68 L88.65 660.28 L88.65 660.87 L88.67 661.46 L88.71 662.06 L88.77 662.65 L88.85 663.25 L88.94 663.84 L89.06 664.44 L89.2 665.03 L89.35 665.62 L89.52 666.22 L89.72 666.81 L89.93 667.41 L90.17 668 L90.42 668.6 L90.69 669.19 L90.99 669.78 L91.3 670.38 L91.63 670.97 L91.98 671.57 L92.35 672.16 L92.74 672.76 L93.15 673.35 L93.57 673.94 L94 674.54 L94.45 675.13 L94.91 675.73 L95.38 676.32 L95.86 676.92 L96.35 677.51 L96.84 678.1 L97.34 678.7 L97.84 679.29 L98.33 679.89 L98.82 680.48 L99.31 681.08 L99.78 681.67 L100.24 682.26 L100.69 682.86 L101.12 683.45 L101.53 684.05 L101.92 684.64 L102.28 685.24 L102.62 685.83 L102.92 686.42 L103.2 687.02 L103.44 687.61 L103.65 688.21 L103.82 688.8 L103.95 689.4 L104.05 689.99 L104.11 690.58 L104.13 691.18 L104.11 691.77 L104.06 692.37 L103.97 692.96 L103.84 693.56 L103.67 694.15 L103.48 694.74 L103.25 695.34 L102.99 695.93 L102.7 696.53 L102.39 697.12 L102.05 697.72 L101.7 698.31 L101.32 698.9 L100.93 699.5 L100.53 700.09 L100.12 700.69 L99.7 701.28 L99.27 701.88 L98.85 702.47 L98.42 703.06 L98 703.66 L97.58 704.25 L97.17 704.85 L96.77 705.44 L96.38 706.04 L96 706.63 L95.64 707.22 L95.29 707.82 L94.96 708.41 L94.64 709.01 L94.34 709.6 L94.06 710.2 L93.79 710.79 L93.55 711.38 L93.31 711.98 L93.1 712.57 L92.9 713.17 L92.72 713.76 L92.55 714.36 L92.39 714.95 L92.25 715.54 L92.12 716.14 L92 716.73 L91.89 717.33 L91.79 717.92 L91.69 718.52 L91.6 719.11 L91.52 719.7 L91.44 720.3 L91.36 720.89 L91.29 721.49 L91.21 722.08 L91.14 722.67 Z" fill="#d4d4d4" stroke="#000" stroke-width="1.0" stroke-linejoin="round"/>
<circle cx="63.16" cy="627.59" r="3.0"/>
<circle cx="70.03" cy="627.59" r="3.0"/>
<circle cx="76.9" cy="627.59" r="3.0"/>
<circle cx="83.77" cy="627.59" r="3.0"/>
<circle cx="90.64" cy="627.59" r="3.0"/>
<circle cx="97.5" cy="627.59" r="3.0"/>
<circle cx="104.38" cy="627.59" r="3.0"/>
<circle cx="111.25" cy="627.59" r="3.0"/>
<circle cx="73.46" cy="690.98" r="3.0"/>
<circle cx="80.33" cy="690.98" r="3.0"/>
<circle cx="87.2" cy="690.98" r="3.0"/>
<circle cx="94.07" cy="690.98" r="3.0"/>
<circle cx="100.94" cy="690.98" r="3.0"/>
<circle cx="87.2" cy="722.67" r="3.0"/>
<path d="M164.05 722.67 L163.89 721.88 L163.73 721.09 L163.55 720.3 L163.35 719.51 L163.13 718.71 L162.89 717.92 L162.62 717.13 L162.32 716.34 L161.99 715.54 L161.62 714.75 L161.21 713.96 L160.75 713.17 L160.25 712.37 L159.7 711.58 L159.1 710.79 L158.45 710 L157.76 709.2 L157.02 708.41 L156.23 707.62 L155.39 706.83 L154.53 706.04 L153.62 705.24 L152.69 704.45 L151.74 703.66 L150.78 702.87 L149.82 702.07 L148.86 701.28 L147.92 700.49 L147.01 699.7 L146.13 698.9 L145.29 698.11 L144.51 697.32 L143.8 696.53 L143.17 695.73 L142.61 694.94 L142.15 694.15 L141.78 693.36 L141.51 692.56 L141.35 691.77 L141.3 690.98 L141.35 690.19 L141.51 689.4 L141.78 688.6 L142.15 687.81 L142.61 687.02 L143.17 686.23 L143.8 685.43 L144.51 684.64 L145.29 683.85 L146.12 683.06 L147 682.26 L147.92 681.47 L148.86 680.68 L149.82 679.89 L150.78 679.09 L151.74 678.3 L152.69 677.51 L153.62 676.72 L154.52 675.92 L155.39 675.13 L156.22 674.34 L157.01 673.55 L157.75 672.76 L158.44 671.96 L159.09 671.17 L159.68 670.38 L160.22 669.59 L160.72 668.79 L161.16 668 L161.57 667.21 L161.93 666.42 L162.24 665.62 L162.53 664.83 L162.77 664.04 L162.99 663.25 L163.18 662.45 L163.35 661.66 L163.49 660.87 L163.61 660.08 L163.71 659.29 L163.8 658.49 L163.87 657.7 L163.93 656.91 L163.98 656.12 L164.01 655.32 L164.03 654.53 L164.04 653.74 L164.03 652.95 L164.01 652.15 L163.97 651.36 L163.91 650.57 L163.84 649.78 L163.75 648.98 L163.64 648.19 L163.51 647.4 L163.36 646.61 L163.19 645.81 L162.99 645.02 L162.78 644.23 L162.55 643.44 L162.3 642.65 L162.04 641.85 L161.76 641.06 L161.47 640.27 L161.17 639.48 L160.86 638.68 L160.56 637.89 L160.25 637.1 L159.95 636.31 L159.66 635.51 L159.39 634.72 L159.13 633.93 L158.89 633.14 L158.67 632.34 L158.48 631.55 L158.32 630.76 L158.2 629.97 L158.11 629.17 L158.05 628.38 L158.03 627.59 L158.05 626.8 L158.11 626.01 L158.2 625.21 L158.32 624.42 L158.48 623.63 L158.67 622.84 L158.89 622.04 L159.13 621.25 L159.39 620.46 L159.66 619.67 L159.95 618.87 L160.25 618.08 L160.56 617.29 L160.87 616.5 L161.17 615.7 L161.47 614.91 L161.76 614.12 L162.04 613.33 L162.31 612.53 L162.56 611.74 L162.8 610.95 L163.01 610.16 L163.21 609.37 L163.39 608.57 L163.55 607.78 L163.69 606.99 L163.82 606.2 L163.93 605.4 L164.02 604.61 L164.1 603.82 L164.17 603.03 L164.23 602.23 L164.28 601.44 L164.33 600.65 L164.38 599.86 L164.42 599.06 L164.46 598.27 L164.51 597.48 L164.56 596.69 L164.62 595.89 L171.98 595.89 L172.04 596.69 L172.09 597.48 L172.14 598.27 L172.18 599.06 L172.22 599.86 L172.27 600.65 L172.32 601.44 L172.37 602.23 L172.43 603.03 L172.5 603.82 L172.58 604.61 L172.67 605.4 L172.78 606.2 L172.91 606.99 L173.05 607.78 L173.21 608.57 L173.39 609.37 L173.59 610.16 L173.8 610.95 L174.04 611.74 L174.29 612.53 L174.56 613.33 L174.84 614.12 L175.13 614.91 L175.43 615.7 L175.73 616.5 L176.04 617.29 L176.35 618.08 L176.65 618.87 L176.94 619.67 L177.21 620.46 L177.47 621.25 L177.71 622.04 L177.93 622.84 L178.12 623.63 L178.28 624.42 L178.4 625.21 L178.49 626.01 L178.55 626.8 L178.57 627.59 L178.55 628.38 L178.49 629.17 L178.4 629.97 L178.28 630.76 L178.12 631.55 L177.93 632.34 L177.71 633.14 L177.47 633.93 L177.21 634.72 L176.94 635.51 L176.65 636.31 L176.35 637.1 L176.04 637.89 L175.74 638.68 L175.43 639.48 L175.13 640.27 L174.84 641.06 L174.56 641.85 L174.3 642.65 L174.05 643.44 L173.82 644.23 L173.61 645.02 L173.41 645.81 L173.24 646.61 L173.09 647.4 L172.96 648.19 L172.85 648.98 L172.76 649.78 L172.69 650.57 L172.63 651.36 L172.59 652.15 L172.57 652.95 L172.56 653.74 L172.57 654.53 L172.59 655.32 L172.62 656.12 L172.67 656.91 L172.73 657.7 L172.8 658.49 L172.89 659.29 L172.99 660.08 L173.11 660.87 L173.25 661.66 L173.42 662.45 L173.61 663.25 L173.83 664.04 L174.07 664.83 L174.36 665.62 L174.67 666.42 L175.03 667.21 L175.44 668 L175.88 668.79 L176.38 669.59 L176.92 670.38 L177.51 671.17 L178.16 671.96 L178.85 672.76 L179.59 673.55 L180.38 674.34 L181.21 675.13 L182.08 675.92 L182.98 676.72 L183.91 677.51 L184.86 678.3 L185.82 679.09 L186.78 679.89 L187.74 680.68 L188.68 681.47 L189.6 682.26 L190.48 683.06 L191.31 683.85 L192.09 684.64 L192.8 685.43 L193.43 686.23 L193.99 687.02 L194.45 687.81 L194.82 688.6 L195.09 689.4 L195.25 690.19 L195.3 690.98 L195.25 691.77 L195.09 692.56 L194.82 693.36 L194.45 694.15 L193.99 694.94 L193.43 695.73 L192.8 696.53 L192.09 697.32 L191.31 698.11 L190.47 698.9 L189.59 699.7 L188.68 700.49 L187.74 701.28 L186.78 702.07 L185.82 702.87 L184.86 703.66 L183.91 704.45 L182.98 705.24 L182.07 706.04 L181.21 706.83 L180.37 707.62 L179.58 708.41 L178.84 709.2 L178.15 710 L177.5 710.79 L176.9 711.58 L176.35 712.37 L175.85 713.17 L175.39 713.96 L174.98 714.75 L174.61 715.54 L174.28 716.34 L173.98 717.13 L173.71 717.92 L173.47 718.71 L173.25 719.51 L173.05 720.3 L172.87 721.09 L172.71 721.88 L172.55 722.67 Z" fill="#fff" stroke="#000" stroke-width="1.0" stroke-linejoin="round"/>
<circle cx="168.3" cy="595.89" r="3.0"/>
<circle cx="161.4" cy="627.59" r="3.0"/>
<circle cx="168.3" cy="627.59" r="3.0"/>
<circle cx="175.2" cy="627.59" r="3.0"/>
<circle cx="168.3" cy="659.29" r="3.0"/>
<circle cx="144.15" cy="690.98" r="3.0"/>
<circle cx="151.05" cy="690.98" r="3.0"/>
<circle cx="157.95" cy="690.98" r="3.0"/>
<circle cx="164.85" cy="690.98" r="3.0"/>
<circle cx="171.75" cy="690.98" r="3.0"/>
<circle cx="178.65" cy="690.98" r="3.0"/>
<circle cx="185.55" cy="690.98" r="3.0"/>
<circle cx="192.45" cy="690.98" r="3.0"/>
<circle cx="168.3" cy="722.67" r="3.0"/>
<line x1="33.4" y1="563.58" x2="33.4" y2="755" stroke="#000" stroke-width="1.5"/>
<line x1="32.65" y1="754.37" x2="222.9" y2="754.37" stroke="#000" stroke-width="1.25"/>
<line x1="27.6" y1="754.37" x2="33.4" y2="754.37" stroke="#000" stroke-width="1.25"/>
<text transform="translate(25.9 759.67) rotate(0.05) scale(1 1.03)" font-size="14.6" text-anchor="end" font-weight="bold">0</text>
<line x1="27.6" y1="690.98" x2="33.4" y2="690.98" stroke="#000" stroke-width="1.25"/>
<text transform="translate(25.9 696.28) rotate(0.05) scale(1 1.03)" font-size="14.6" text-anchor="end" font-weight="bold">1</text>
<line x1="27.6" y1="627.59" x2="33.4" y2="627.59" stroke="#000" stroke-width="1.25"/>
<text transform="translate(25.9 632.89) rotate(0.05) scale(1 1.03)" font-size="14.6" text-anchor="end" font-weight="bold">2</text>
<line x1="27.6" y1="564.2" x2="33.4" y2="564.2" stroke="#000" stroke-width="1.25"/>
<text transform="translate(25.9 569.5) rotate(0.05) scale(1 1.03)" font-size="14.6" text-anchor="end" font-weight="bold">3</text>
<line x1="87.2" y1="754.37" x2="87.2" y2="760.17" stroke="#000" stroke-width="1.5"/>
<text transform="translate(93 773.47) rotate(-45)" font-size="17.5" text-anchor="end" font-weight="bold">Ctns<tspan font-weight="normal" stroke="#000" stroke-width="0.19" font-size="12.86" dx="0.7" dy="-9.1">-/-</tspan></text>
<line x1="168.3" y1="754.37" x2="168.3" y2="760.17" stroke="#000" stroke-width="1.5"/>
<text transform="translate(174.1 773.47) rotate(-45)" font-size="17.5" text-anchor="end" font-weight="bold">Ctns<tspan font-weight="normal" stroke="#000" stroke-width="0.19" font-size="12.86" dx="0.7" dy="-9.1">-/-</tspan><tspan dx="0.35" dy="9.1">Nlrp2</tspan><tspan font-weight="normal" stroke="#000" stroke-width="0.19" font-size="12.86" dx="0.7" dy="-9.1">-/-</tspan></text>
<text transform="translate(502.6 519.55) rotate(0.05)" font-size="18" text-anchor="middle" font-weight="bold">Glomerulosclerosis</text>
<text transform="translate(364.6 641.4) rotate(-90.05) scale(1.0480 1)" font-size="17.7" text-anchor="middle" font-weight="bold">score</text>
<path d="M419.7 745.65 L419.71 744.64 L419.83 743.64 L420.05 742.63 L420.38 741.63 L420.79 740.62 L421.3 739.62 L421.9 738.61 L422.57 737.6 L423.31 736.6 L424.12 735.59 L424.98 734.59 L425.88 733.58 L426.83 732.58 L427.79 731.57 L428.78 730.56 L429.78 729.56 L430.78 728.55 L431.77 727.55 L432.75 726.54 L433.71 725.53 L434.65 724.53 L435.55 723.52 L436.42 722.52 L437.24 721.51 L438.03 720.51 L438.77 719.5 L439.46 718.49 L440.1 717.49 L440.7 716.48 L441.25 715.48 L441.74 714.47 L442.19 713.47 L442.59 712.46 L442.95 711.45 L443.25 710.45 L443.52 709.44 L443.74 708.44 L443.92 707.43 L444.06 706.43 L444.16 705.42 L444.22 704.41 L444.25 703.41 L444.23 702.4 L444.18 701.4 L444.09 700.39 L443.96 699.39 L443.8 698.38 L443.6 697.37 L443.36 696.37 L443.08 695.36 L442.76 694.36 L442.41 693.35 L442.02 692.35 L441.59 691.34 L441.12 690.33 L440.63 689.33 L440.09 688.32 L439.53 687.32 L438.94 686.31 L438.33 685.3 L437.69 684.3 L437.04 683.29 L436.38 682.29 L435.71 681.28 L435.04 680.28 L434.38 679.27 L433.72 678.26 L433.08 677.26 L432.47 676.25 L431.89 675.25 L431.34 674.24 L430.84 673.24 L430.38 672.23 L429.98 671.22 L429.63 670.22 L429.35 669.21 L429.14 668.21 L429 667.2 L428.93 666.2 L428.93 665.19 L429.01 664.18 L429.16 663.18 L429.39 662.17 L429.69 661.17 L430.05 660.16 L430.49 659.16 L430.99 658.15 L431.54 657.14 L432.15 656.14 L432.81 655.13 L433.51 654.13 L434.25 653.12 L435.01 652.12 L435.8 651.11 L436.61 650.1 L437.43 649.1 L438.25 648.09 L439.07 647.09 L439.89 646.08 L440.69 645.08 L441.48 644.07 L442.25 643.06 L443 642.06 L443.72 641.05 L444.41 640.05 L445.06 639.04 L445.69 638.03 L446.27 637.03 L446.82 636.02 L447.34 635.02 L447.81 634.01 L448.26 633.01 L448.66 632 L449.03 630.99 L449.36 629.99 L449.66 628.98 L449.92 627.98 L450.16 626.97 L450.36 625.97 L450.54 624.96 L450.69 623.95 L450.81 622.95 L450.91 621.94 L450.98 620.94 L451.03 619.93 L451.07 618.93 L451.08 617.92 L451.07 616.91 L451.05 615.91 L451.01 614.9 L450.95 613.9 L450.88 612.89 L450.8 611.89 L450.71 610.88 L450.6 609.87 L450.48 608.87 L450.36 607.86 L450.22 606.86 L450.08 605.85 L449.94 604.85 L449.78 603.84 L449.63 602.83 L449.47 601.83 L449.31 600.82 L449.15 599.82 L448.99 598.81 L448.84 597.8 L448.69 596.8 L448.55 595.79 L448.41 594.79 L448.28 593.78 L448.16 592.78 L448.06 591.77 L447.96 590.76 L447.88 589.76 L447.81 588.75 L447.75 587.75 L447.72 586.74 L447.69 585.74 L447.68 584.73 L456.92 584.73 L456.91 585.74 L456.88 586.74 L456.85 587.75 L456.79 588.75 L456.72 589.76 L456.64 590.76 L456.54 591.77 L456.44 592.78 L456.32 593.78 L456.19 594.79 L456.05 595.79 L455.91 596.8 L455.76 597.8 L455.61 598.81 L455.45 599.82 L455.29 600.82 L455.13 601.83 L454.97 602.83 L454.82 603.84 L454.66 604.85 L454.52 605.85 L454.38 606.86 L454.24 607.86 L454.12 608.87 L454 609.87 L453.89 610.88 L453.8 611.89 L453.72 612.89 L453.65 613.9 L453.59 614.9 L453.55 615.91 L453.53 616.91 L453.52 617.92 L453.53 618.93 L453.57 619.93 L453.62 620.94 L453.69 621.94 L453.79 622.95 L453.91 623.95 L454.06 624.96 L454.24 625.97 L454.44 626.97 L454.68 627.98 L454.94 628.98 L455.24 629.99 L455.57 630.99 L455.94 632 L456.34 633.01 L456.79 634.01 L457.26 635.02 L457.78 636.02 L458.33 637.03 L458.91 638.03 L459.54 639.04 L460.19 640.05 L460.88 641.05 L461.6 642.06 L462.35 643.06 L463.12 644.07 L463.91 645.08 L464.71 646.08 L465.53 647.09 L466.35 648.09 L467.17 649.1 L467.99 650.1 L468.8 651.11 L469.59 652.12 L470.35 653.12 L471.09 654.13 L471.79 655.13 L472.45 656.14 L473.06 657.14 L473.61 658.15 L474.11 659.16 L474.55 660.16 L474.91 661.17 L475.21 662.17 L475.44 663.18 L475.59 664.18 L475.67 665.19 L475.67 666.2 L475.6 667.2 L475.46 668.21 L475.25 669.21 L474.97 670.22 L474.62 671.22 L474.22 672.23 L473.76 673.24 L473.26 674.24 L472.71 675.25 L472.13 676.25 L471.52 677.26 L470.88 678.26 L470.22 679.27 L469.56 680.28 L468.89 681.28 L468.22 682.29 L467.56 683.29 L466.91 684.3 L466.27 685.3 L465.66 686.31 L465.07 687.32 L464.51 688.32 L463.97 689.33 L463.48 690.33 L463.01 691.34 L462.58 692.35 L462.19 693.35 L461.84 694.36 L461.52 695.36 L461.24 696.37 L461 697.37 L460.8 698.38 L460.64 699.39 L460.51 700.39 L460.42 701.4 L460.37 702.4 L460.35 703.41 L460.38 704.41 L460.44 705.42 L460.54 706.43 L460.68 707.43 L460.86 708.44 L461.08 709.44 L461.35 710.45 L461.65 711.45 L462.01 712.46 L462.41 713.47 L462.86 714.47 L463.35 715.48 L463.9 716.48 L464.5 717.49 L465.14 718.49 L465.83 719.5 L466.57 720.51 L467.36 721.51 L468.18 722.52 L469.05 723.52 L469.95 724.53 L470.89 725.53 L471.85 726.54 L472.83 727.55 L473.82 728.55 L474.82 729.56 L475.82 730.56 L476.81 731.57 L477.77 732.58 L478.72 733.58 L479.62 734.59 L480.48 735.59 L481.29 736.6 L482.03 737.6 L482.7 738.61 L483.3 739.62 L483.81 740.62 L484.22 741.63 L484.55 742.63 L484.77 743.64 L484.89 744.64 L484.9 745.65 Z" fill="#d4d4d4" stroke="#000" stroke-width="2.1" stroke-linejoin="round"/>
<line x1="429.98" y1="665.19" x2="474.62" y2="665.19" stroke="#505050" stroke-width="0.85" stroke-dasharray="1 1.5"/>
<circle cx="452.3" cy="584.73" r="3.0"/>
<circle cx="431.7" cy="665.19" r="3.0"/>
<circle cx="442" cy="665.19" r="3.0"/>
<circle cx="452.3" cy="665.19" r="3.0"/>
<circle cx="462.6" cy="665.19" r="3.0"/>
<circle cx="472.9" cy="665.19" r="3.0"/>
<circle cx="452.3" cy="705.42" r="3.0"/>
<circle cx="421.7" cy="745.65" r="3.0"/>
<circle cx="431.9" cy="745.65" r="3.0"/>
<circle cx="442.1" cy="745.65" r="3.0"/>
<circle cx="452.3" cy="745.65" r="3.0"/>
<circle cx="462.5" cy="745.65" r="3.0"/>
<circle cx="472.7" cy="745.65" r="3.0"/>
<circle cx="482.9" cy="745.65" r="3.0"/>
<line x1="434.76" y1="725.53" x2="469.84" y2="725.53" stroke="#f01414" stroke-width="1" stroke-dasharray="1.6 1.4"/>
<path d="M519.3 745.65 L519.29 744.64 L519.39 743.64 L519.61 742.63 L519.94 741.63 L520.38 740.62 L520.91 739.62 L521.53 738.61 L522.22 737.6 L522.99 736.6 L523.81 735.59 L524.68 734.59 L525.58 733.58 L526.5 732.58 L527.44 731.57 L528.38 730.56 L529.3 729.56 L530.21 728.55 L531.09 727.55 L531.93 726.54 L532.74 725.53 L533.49 724.53 L534.2 723.52 L534.85 722.52 L535.44 721.51 L535.98 720.51 L536.47 719.5 L536.9 718.49 L537.28 717.49 L537.61 716.48 L537.89 715.48 L538.13 714.47 L538.34 713.47 L538.51 712.46 L538.66 711.45 L538.78 710.45 L538.87 709.44 L538.95 708.44 L539.02 707.43 L539.07 706.43 L539.12 705.42 L539.15 704.41 L539.17 703.41 L539.18 702.4 L539.18 701.4 L539.16 700.39 L539.13 699.39 L539.08 698.38 L539 697.37 L538.9 696.37 L538.77 695.36 L538.61 694.36 L538.41 693.35 L538.17 692.35 L537.89 691.34 L537.56 690.33 L537.18 689.33 L536.76 688.32 L536.29 687.32 L535.77 686.31 L535.21 685.3 L534.61 684.3 L533.97 683.29 L533.3 682.29 L532.6 681.28 L531.88 680.28 L531.15 679.27 L530.42 678.26 L529.7 677.26 L528.99 676.25 L528.3 675.25 L527.65 674.24 L527.05 673.24 L526.49 672.23 L526 671.22 L525.59 670.22 L525.24 669.21 L524.99 668.21 L524.82 667.2 L524.75 666.2 L524.77 665.19 L524.9 664.18 L525.12 663.18 L525.44 662.17 L525.85 661.17 L526.36 660.16 L526.95 659.16 L527.63 658.15 L528.38 657.14 L529.19 656.14 L530.07 655.13 L531 654.13 L531.97 653.12 L532.97 652.12 L534 651.11 L535.04 650.1 L536.09 649.1 L537.13 648.09 L538.17 647.09 L539.19 646.08 L540.19 645.08 L541.15 644.07 L542.09 643.06 L542.98 642.06 L543.83 641.05 L544.64 640.05 L545.4 639.04 L546.11 638.03 L546.77 637.03 L547.39 636.02 L547.95 635.02 L548.47 634.01 L548.93 633.01 L549.36 632 L549.74 630.99 L550.08 629.99 L550.38 628.98 L550.64 627.98 L550.86 626.97 L551.05 625.97 L551.22 624.96 L551.35 623.95 L551.45 622.95 L551.53 621.94 L551.59 620.94 L551.62 619.93 L551.63 618.93 L551.62 617.92 L551.59 616.91 L551.55 615.91 L551.48 614.9 L551.4 613.9 L551.31 612.89 L551.2 611.89 L551.08 610.88 L550.94 609.87 L550.79 608.87 L550.63 607.86 L550.46 606.86 L550.29 605.85 L550.1 604.85 L549.9 603.84 L549.7 602.83 L549.5 601.83 L549.29 600.82 L549.09 599.82 L548.88 598.81 L548.68 597.8 L548.48 596.8 L548.29 595.79 L548.11 594.79 L547.94 593.78 L547.78 592.78 L547.63 591.77 L547.5 590.76 L547.39 589.76 L547.3 588.75 L547.22 587.75 L547.17 586.74 L547.14 585.74 L547.13 584.73 L558.07 584.73 L558.06 585.74 L558.03 586.74 L557.98 587.75 L557.9 588.75 L557.81 589.76 L557.7 590.76 L557.57 591.77 L557.42 592.78 L557.26 593.78 L557.09 594.79 L556.91 595.79 L556.72 596.8 L556.52 597.8 L556.32 598.81 L556.11 599.82 L555.91 600.82 L555.7 601.83 L555.5 602.83 L555.3 603.84 L555.1 604.85 L554.91 605.85 L554.74 606.86 L554.57 607.86 L554.41 608.87 L554.26 609.87 L554.12 610.88 L554 611.89 L553.89 612.89 L553.8 613.9 L553.72 614.9 L553.65 615.91 L553.61 616.91 L553.58 617.92 L553.57 618.93 L553.58 619.93 L553.61 620.94 L553.67 621.94 L553.75 622.95 L553.85 623.95 L553.98 624.96 L554.15 625.97 L554.34 626.97 L554.56 627.98 L554.82 628.98 L555.12 629.99 L555.46 630.99 L555.84 632 L556.27 633.01 L556.73 634.01 L557.25 635.02 L557.81 636.02 L558.43 637.03 L559.09 638.03 L559.8 639.04 L560.56 640.05 L561.37 641.05 L562.22 642.06 L563.11 643.06 L564.05 644.07 L565.01 645.08 L566.01 646.08 L567.03 647.09 L568.07 648.09 L569.11 649.1 L570.16 650.1 L571.2 651.11 L572.23 652.12 L573.23 653.12 L574.2 654.13 L575.13 655.13 L576.01 656.14 L576.82 657.14 L577.57 658.15 L578.25 659.16 L578.84 660.16 L579.35 661.17 L579.76 662.17 L580.08 663.18 L580.3 664.18 L580.43 665.19 L580.45 666.2 L580.38 667.2 L580.21 668.21 L579.96 669.21 L579.61 670.22 L579.2 671.22 L578.71 672.23 L578.15 673.24 L577.55 674.24 L576.9 675.25 L576.21 676.25 L575.5 677.26 L574.78 678.26 L574.05 679.27 L573.32 680.28 L572.6 681.28 L571.9 682.29 L571.23 683.29 L570.59 684.3 L569.99 685.3 L569.43 686.31 L568.91 687.32 L568.44 688.32 L568.02 689.33 L567.64 690.33 L567.31 691.34 L567.03 692.35 L566.79 693.35 L566.59 694.36 L566.43 695.36 L566.3 696.37 L566.2 697.37 L566.12 698.38 L566.07 699.39 L566.04 700.39 L566.02 701.4 L566.02 702.4 L566.03 703.41 L566.05 704.41 L566.08 705.42 L566.13 706.43 L566.18 707.43 L566.25 708.44 L566.33 709.44 L566.42 710.45 L566.54 711.45 L566.69 712.46 L566.86 713.47 L567.07 714.47 L567.31 715.48 L567.59 716.48 L567.92 717.49 L568.3 718.49 L568.73 719.5 L569.22 720.51 L569.76 721.51 L570.35 722.52 L571 723.52 L571.71 724.53 L572.46 725.53 L573.27 726.54 L574.11 727.55 L574.99 728.55 L575.9 729.56 L576.82 730.56 L577.76 731.57 L578.7 732.58 L579.62 733.58 L580.52 734.59 L581.39 735.59 L582.21 736.6 L582.98 737.6 L583.67 738.61 L584.29 739.62 L584.82 740.62 L585.26 741.63 L585.59 742.63 L585.81 743.64 L585.91 744.64 L585.9 745.65 Z" fill="#fff" stroke="#000" stroke-width="2.1" stroke-linejoin="round"/>
<line x1="525.82" y1="665.19" x2="579.38" y2="665.19" stroke="#505050" stroke-width="0.85" stroke-dasharray="1 1.5"/>
<circle cx="552.6" cy="584.73" r="3.0"/>
<circle cx="528.2" cy="665.19" r="3.0"/>
<circle cx="540.4" cy="665.19" r="3.0"/>
<circle cx="552.6" cy="665.19" r="3.0"/>
<circle cx="564.8" cy="665.19" r="3.0"/>
<circle cx="577" cy="665.19" r="3.0"/>
<circle cx="546.5" cy="705.42" r="3.0"/>
<circle cx="558.7" cy="705.42" r="3.0"/>
<circle cx="522.35" cy="745.65" r="3.0"/>
<circle cx="534.45" cy="745.65" r="3.0"/>
<circle cx="546.55" cy="745.65" r="3.0"/>
<circle cx="558.65" cy="745.65" r="3.0"/>
<circle cx="570.75" cy="745.65" r="3.0"/>
<circle cx="582.85" cy="745.65" r="3.0"/>
<line x1="540.17" y1="705.42" x2="565.03" y2="705.42" stroke="#f01414" stroke-width="1" stroke-dasharray="1.6 1.4"/>
<line x1="402.2" y1="543.88" x2="402.2" y2="746.27" stroke="#000" stroke-width="1.55"/>
<line x1="401.43" y1="745.65" x2="603.6" y2="745.65" stroke="#000" stroke-width="1.25"/>
<line x1="398.2" y1="745.65" x2="402.2" y2="745.65" stroke="#000" stroke-width="1.25"/>
<text transform="translate(395.8 751.68) rotate(0.05) scale(1 1.03)" font-size="15.7" text-anchor="end" font-weight="bold">0.0</text>
<line x1="398.2" y1="705.42" x2="402.2" y2="705.42" stroke="#000" stroke-width="1.25"/>
<text transform="translate(395.8 711.45) rotate(0.05) scale(1 1.03)" font-size="15.7" text-anchor="end" font-weight="bold">0.5</text>
<line x1="398.2" y1="665.19" x2="402.2" y2="665.19" stroke="#000" stroke-width="1.25"/>
<text transform="translate(395.8 671.22) rotate(0.05) scale(1 1.03)" font-size="15.7" text-anchor="end" font-weight="bold">1.0</text>
<line x1="398.2" y1="624.96" x2="402.2" y2="624.96" stroke="#000" stroke-width="1.25"/>
<text transform="translate(395.8 630.99) rotate(0.05) scale(1 1.03)" font-size="15.7" text-anchor="end" font-weight="bold">1.5</text>
<line x1="398.2" y1="584.73" x2="402.2" y2="584.73" stroke="#000" stroke-width="1.25"/>
<text transform="translate(395.8 590.76) rotate(0.05) scale(1 1.03)" font-size="15.7" text-anchor="end" font-weight="bold">2.0</text>
<line x1="398.2" y1="544.5" x2="402.2" y2="544.5" stroke="#000" stroke-width="1.25"/>
<text transform="translate(395.8 550.53) rotate(0.05) scale(1 1.03)" font-size="15.7" text-anchor="end" font-weight="bold">2.5</text>
<line x1="452.3" y1="745.65" x2="452.3" y2="750.25" stroke="#000" stroke-width="1.55"/>
<text transform="translate(459.3 764.15) rotate(-45)" font-size="18.5" text-anchor="end" font-weight="bold">Ctns<tspan font-weight="normal" stroke="#000" stroke-width="0.2" font-size="13.6" dx="0.74" dy="-9.62">-/-</tspan></text>
<line x1="552.6" y1="745.65" x2="552.6" y2="750.25" stroke="#000" stroke-width="1.55"/>
<text transform="translate(559.6 764.15) rotate(-45)" font-size="18.5" text-anchor="end" font-weight="bold">Ctns<tspan font-weight="normal" stroke="#000" stroke-width="0.2" font-size="13.6" dx="0.74" dy="-9.62">-/-</tspan><tspan dx="0.37" dy="9.62">Nlrp2</tspan><tspan font-weight="normal" stroke="#000" stroke-width="0.2" font-size="13.6" dx="0.74" dy="-9.62">-/-</tspan></text>
<text transform="translate(822.2 518.43) rotate(0.05)" font-size="17" text-anchor="middle" font-weight="bold">Immune cell</text>
<text transform="translate(822.2 538.03) rotate(0.05)" font-size="17" text-anchor="middle" font-weight="bold">infiltration</text>
<text transform="translate(705.1 653.3) rotate(-90.05) scale(1.0359 1)" font-size="16.7" text-anchor="middle" font-weight="bold">score</text>
<path d="M769.72 727.98 L769.63 727.24 L769.56 726.5 L769.49 725.76 L769.43 725.02 L769.37 724.28 L769.31 723.54 L769.25 722.8 L769.17 722.06 L769.09 721.32 L768.99 720.58 L768.88 719.84 L768.74 719.1 L768.59 718.36 L768.41 717.62 L768.2 716.88 L767.98 716.14 L767.73 715.4 L767.47 714.66 L767.19 713.92 L766.89 713.18 L766.59 712.44 L766.29 711.7 L765.99 710.96 L765.7 710.22 L765.43 709.48 L765.17 708.74 L764.95 708 L764.76 707.26 L764.6 706.52 L764.49 705.78 L764.42 705.04 L764.39 704.3 L764.42 703.56 L764.5 702.82 L764.63 702.08 L764.8 701.34 L765.01 700.6 L765.26 699.86 L765.54 699.12 L765.84 698.38 L766.16 697.64 L766.49 696.9 L766.82 696.16 L767.14 695.42 L767.46 694.68 L767.76 693.94 L768.04 693.2 L768.3 692.46 L768.54 691.72 L768.75 690.98 L768.93 690.24 L769.09 689.5 L769.21 688.76 L769.31 688.02 L769.39 687.28 L769.43 686.54 L769.46 685.8 L769.46 685.06 L769.43 684.32 L769.39 683.58 L769.32 682.84 L769.23 682.1 L769.11 681.36 L768.96 680.62 L768.78 679.89 L768.57 679.15 L768.31 678.41 L768.02 677.67 L767.67 676.93 L767.27 676.19 L766.82 675.45 L766.29 674.71 L765.7 673.97 L765.04 673.23 L764.3 672.49 L763.48 671.75 L762.58 671.01 L761.61 670.27 L760.56 669.53 L759.44 668.79 L758.26 668.05 L757.03 667.31 L755.76 666.57 L754.46 665.83 L753.16 665.09 L751.87 664.35 L750.6 663.61 L749.39 662.87 L748.24 662.13 L747.19 661.39 L746.25 660.65 L745.43 659.91 L744.75 659.17 L744.24 658.43 L743.88 657.69 L743.7 656.95 L743.67 656.21 L743.77 655.47 L743.99 654.73 L744.33 653.99 L744.78 653.25 L745.32 652.51 L745.94 651.77 L746.63 651.03 L747.36 650.29 L748.13 649.55 L748.91 648.81 L749.7 648.07 L750.46 647.33 L751.2 646.59 L751.9 645.85 L752.54 645.11 L753.12 644.37 L753.64 643.63 L754.1 642.89 L754.48 642.15 L754.81 641.41 L755.08 640.67 L755.29 639.93 L755.47 639.19 L755.61 638.45 L755.74 637.71 L755.86 636.97 L755.98 636.23 L756.11 635.49 L756.28 634.75 L756.47 634.01 L756.71 633.27 L756.99 632.54 L757.33 631.8 L757.72 631.06 L758.17 630.32 L758.66 629.58 L759.2 628.84 L759.77 628.1 L760.37 627.36 L760.99 626.62 L761.63 625.88 L762.27 625.14 L762.9 624.4 L763.52 623.66 L764.11 622.92 L764.69 622.18 L765.22 621.44 L765.73 620.7 L766.19 619.96 L766.62 619.22 L767 618.48 L767.35 617.74 L767.66 617 L767.93 616.26 L768.18 615.52 L768.39 614.78 L768.58 614.04 L768.76 613.3 L768.91 612.56 L769.06 611.82 L769.2 611.08 L769.34 610.34 L769.47 609.6 L780.53 609.6 L780.66 610.34 L780.8 611.08 L780.94 611.82 L781.09 612.56 L781.24 613.3 L781.42 614.04 L781.61 614.78 L781.82 615.52 L782.07 616.26 L782.34 617 L782.65 617.74 L783 618.48 L783.38 619.22 L783.81 619.96 L784.27 620.7 L784.78 621.44 L785.31 622.18 L785.89 622.92 L786.48 623.66 L787.1 624.4 L787.73 625.14 L788.37 625.88 L789.01 626.62 L789.63 627.36 L790.23 628.1 L790.8 628.84 L791.34 629.58 L791.83 630.32 L792.28 631.06 L792.67 631.8 L793.01 632.54 L793.29 633.27 L793.53 634.01 L793.72 634.75 L793.89 635.49 L794.02 636.23 L794.14 636.97 L794.26 637.71 L794.39 638.45 L794.53 639.19 L794.71 639.93 L794.92 640.67 L795.19 641.41 L795.52 642.15 L795.9 642.89 L796.36 643.63 L796.88 644.37 L797.46 645.11 L798.1 645.85 L798.8 646.59 L799.54 647.33 L800.3 648.07 L801.09 648.81 L801.87 649.55 L802.64 650.29 L803.37 651.03 L804.06 651.77 L804.68 652.51 L805.22 653.25 L805.67 653.99 L806.01 654.73 L806.23 655.47 L806.33 656.21 L806.3 656.95 L806.12 657.69 L805.76 658.43 L805.25 659.17 L804.57 659.91 L803.75 660.65 L802.81 661.39 L801.76 662.13 L800.61 662.87 L799.4 663.61 L798.13 664.35 L796.84 665.09 L795.54 665.83 L794.24 666.57 L792.97 667.31 L791.74 668.05 L790.56 668.79 L789.44 669.53 L788.39 670.27 L787.42 671.01 L786.52 671.75 L785.7 672.49 L784.96 673.23 L784.3 673.97 L783.71 674.71 L783.18 675.45 L782.73 676.19 L782.33 676.93 L781.98 677.67 L781.69 678.41 L781.43 679.15 L781.22 679.89 L781.04 680.62 L780.89 681.36 L780.77 682.1 L780.68 682.84 L780.61 683.58 L780.57 684.32 L780.54 685.06 L780.54 685.8 L780.57 686.54 L780.61 687.28 L780.69 688.02 L780.79 688.76 L780.91 689.5 L781.07 690.24 L781.25 690.98 L781.46 691.72 L781.7 692.46 L781.96 693.2 L782.24 693.94 L782.54 694.68 L782.86 695.42 L783.18 696.16 L783.51 696.9 L783.84 697.64 L784.16 698.38 L784.46 699.12 L784.74 699.86 L784.99 700.6 L785.2 701.34 L785.37 702.08 L785.5 702.82 L785.58 703.56 L785.61 704.3 L785.58 705.04 L785.51 705.78 L785.4 706.52 L785.24 707.26 L785.05 708 L784.83 708.74 L784.57 709.48 L784.3 710.22 L784.01 710.96 L783.71 711.7 L783.41 712.44 L783.11 713.18 L782.81 713.92 L782.53 714.66 L782.27 715.4 L782.02 716.14 L781.8 716.88 L781.59 717.62 L781.41 718.36 L781.26 719.1 L781.12 719.84 L781.01 720.58 L780.91 721.32 L780.83 722.06 L780.75 722.8 L780.69 723.54 L780.63 724.28 L780.57 725.02 L780.51 725.76 L780.44 726.5 L780.37 727.24 L780.28 727.98 Z" fill="#d4d4d4" stroke="#000" stroke-width="2.1" stroke-linejoin="round"/>
<line x1="757.76" y1="633.27" x2="792.24" y2="633.27" stroke="#505050" stroke-width="0.85" stroke-dasharray="1 1.5"/>
<line x1="770.48" y1="686.54" x2="779.52" y2="686.54" stroke="#505050" stroke-width="0.85" stroke-dasharray="1 1.5"/>
<circle cx="775" cy="609.6" r="3.0"/>
<circle cx="763.45" cy="633.27" r="3.0"/>
<circle cx="775" cy="633.27" r="3.0"/>
<circle cx="786.55" cy="633.27" r="3.0"/>
<circle cx="745.75" cy="656.95" r="3.0"/>
<circle cx="757.45" cy="656.95" r="3.0"/>
<circle cx="769.15" cy="656.95" r="3.0"/>
<circle cx="780.85" cy="656.95" r="3.0"/>
<circle cx="792.55" cy="656.95" r="3.0"/>
<circle cx="804.25" cy="656.95" r="3.0"/>
<circle cx="775" cy="680.62" r="3.0"/>
<circle cx="769.15" cy="704.3" r="3.0"/>
<circle cx="780.85" cy="704.3" r="3.0"/>
<circle cx="775" cy="727.98" r="3.0"/>
<line x1="744.75" y1="656.95" x2="805.25" y2="656.95" stroke="#f01414" stroke-width="1" stroke-dasharray="1.6 1.4"/>
<path d="M857.29 727.98 L857.34 727.38 L857.48 726.79 L857.72 726.2 L858.04 725.61 L858.44 725.02 L858.91 724.42 L859.44 723.83 L860.01 723.24 L860.62 722.65 L861.24 722.06 L861.87 721.46 L862.49 720.87 L863.09 720.28 L863.66 719.69 L864.19 719.1 L864.67 718.5 L865.09 717.91 L865.46 717.32 L865.76 716.73 L865.99 716.14 L866.16 715.55 L866.27 714.95 L866.31 714.36 L866.29 713.77 L866.22 713.18 L866.1 712.59 L865.93 711.99 L865.73 711.4 L865.51 710.81 L865.26 710.22 L865 709.63 L864.75 709.03 L864.49 708.44 L864.26 707.85 L864.04 707.26 L863.86 706.67 L863.7 706.08 L863.59 705.48 L863.52 704.89 L863.49 704.3 L863.5 703.71 L863.56 703.12 L863.66 702.52 L863.79 701.93 L863.95 701.34 L864.14 700.75 L864.33 700.16 L864.54 699.56 L864.73 698.97 L864.91 698.38 L865.07 697.79 L865.18 697.2 L865.25 696.61 L865.25 696.01 L865.18 695.42 L865.03 694.83 L864.79 694.24 L864.45 693.65 L864.01 693.05 L863.46 692.46 L862.8 691.87 L862.02 691.28 L861.14 690.69 L860.16 690.1 L859.09 689.5 L857.94 688.91 L856.72 688.32 L855.45 687.73 L854.15 687.14 L852.85 686.54 L851.57 685.95 L850.33 685.36 L849.16 684.77 L848.08 684.18 L847.12 683.58 L846.31 682.99 L845.65 682.4 L845.16 681.81 L844.86 681.22 L844.75 680.62 L844.83 680.03 L845.1 679.44 L845.55 678.85 L846.17 678.26 L846.94 677.67 L847.84 677.07 L848.84 676.48 L849.91 675.89 L851.03 675.3 L852.16 674.71 L853.28 674.11 L854.35 673.52 L855.35 672.93 L856.25 672.34 L857.02 671.75 L857.65 671.15 L858.11 670.56 L858.39 669.97 L858.49 669.38 L858.38 668.79 L858.08 668.2 L857.58 667.6 L856.89 667.01 L856.03 666.42 L854.99 665.83 L853.81 665.24 L852.51 664.64 L851.11 664.05 L849.64 663.46 L848.14 662.87 L846.64 662.28 L845.17 661.68 L843.78 661.09 L842.49 660.5 L841.33 659.91 L840.35 659.32 L839.55 658.73 L838.97 658.13 L838.61 657.54 L838.5 656.95 L838.67 656.36 L839.17 655.77 L839.96 655.17 L841.02 654.58 L842.31 653.99 L843.78 653.4 L845.4 652.81 L847.1 652.22 L848.86 651.62 L850.62 651.03 L852.34 650.44 L854.01 649.85 L855.58 649.26 L857.03 648.66 L858.35 648.07 L859.53 647.48 L860.55 646.89 L861.42 646.3 L862.14 645.7 L862.7 645.11 L863.11 644.52 L863.38 643.93 L863.51 643.34 L863.52 642.75 L863.41 642.15 L863.2 641.56 L862.88 640.97 L862.48 640.38 L862.01 639.79 L861.47 639.19 L860.9 638.6 L860.31 638.01 L859.72 637.42 L859.15 636.83 L858.61 636.23 L858.15 635.64 L857.76 635.05 L857.47 634.46 L857.3 633.87 L857.25 633.27 L882.35 633.27 L882.3 633.87 L882.13 634.46 L881.84 635.05 L881.45 635.64 L880.99 636.23 L880.45 636.83 L879.88 637.42 L879.29 638.01 L878.7 638.6 L878.13 639.19 L877.59 639.79 L877.12 640.38 L876.72 640.97 L876.4 641.56 L876.19 642.15 L876.08 642.75 L876.09 643.34 L876.22 643.93 L876.49 644.52 L876.9 645.11 L877.46 645.7 L878.18 646.3 L879.05 646.89 L880.07 647.48 L881.25 648.07 L882.57 648.66 L884.02 649.26 L885.59 649.85 L887.26 650.44 L888.98 651.03 L890.74 651.62 L892.5 652.22 L894.2 652.81 L895.82 653.4 L897.29 653.99 L898.58 654.58 L899.64 655.17 L900.43 655.77 L900.93 656.36 L901.1 656.95 L900.99 657.54 L900.63 658.13 L900.05 658.73 L899.25 659.32 L898.27 659.91 L897.11 660.5 L895.82 661.09 L894.43 661.68 L892.96 662.28 L891.46 662.87 L889.96 663.46 L888.49 664.05 L887.09 664.64 L885.79 665.24 L884.61 665.83 L883.57 666.42 L882.71 667.01 L882.02 667.6 L881.52 668.2 L881.22 668.79 L881.11 669.38 L881.21 669.97 L881.49 670.56 L881.95 671.15 L882.58 671.75 L883.35 672.34 L884.25 672.93 L885.25 673.52 L886.32 674.11 L887.44 674.71 L888.57 675.3 L889.69 675.89 L890.76 676.48 L891.76 677.07 L892.66 677.67 L893.43 678.26 L894.05 678.85 L894.5 679.44 L894.77 680.03 L894.85 680.62 L894.74 681.22 L894.44 681.81 L893.95 682.4 L893.29 682.99 L892.48 683.58 L891.52 684.18 L890.44 684.77 L889.27 685.36 L888.03 685.95 L886.75 686.54 L885.45 687.14 L884.15 687.73 L882.88 688.32 L881.66 688.91 L880.51 689.5 L879.44 690.1 L878.46 690.69 L877.58 691.28 L876.8 691.87 L876.14 692.46 L875.59 693.05 L875.15 693.65 L874.81 694.24 L874.57 694.83 L874.42 695.42 L874.35 696.01 L874.35 696.61 L874.42 697.2 L874.53 697.79 L874.69 698.38 L874.87 698.97 L875.06 699.56 L875.27 700.16 L875.46 700.75 L875.65 701.34 L875.81 701.93 L875.94 702.52 L876.04 703.12 L876.1 703.71 L876.11 704.3 L876.08 704.89 L876.01 705.48 L875.9 706.08 L875.74 706.67 L875.56 707.26 L875.34 707.85 L875.11 708.44 L874.85 709.03 L874.6 709.63 L874.34 710.22 L874.09 710.81 L873.87 711.4 L873.67 711.99 L873.5 712.59 L873.38 713.18 L873.31 713.77 L873.29 714.36 L873.33 714.95 L873.44 715.55 L873.61 716.14 L873.84 716.73 L874.14 717.32 L874.51 717.91 L874.93 718.5 L875.41 719.1 L875.94 719.69 L876.51 720.28 L877.11 720.87 L877.73 721.46 L878.36 722.06 L878.98 722.65 L879.59 723.24 L880.16 723.83 L880.69 724.42 L881.16 725.02 L881.56 725.61 L881.88 726.2 L882.12 726.79 L882.26 727.38 L882.31 727.98 Z" fill="#fff" stroke="#000" stroke-width="2.1" stroke-linejoin="round"/>
<line x1="839.55" y1="656.95" x2="900.05" y2="656.95" stroke="#505050" stroke-width="0.85" stroke-dasharray="1 1.5"/>
<line x1="853.9" y1="686.54" x2="885.7" y2="686.54" stroke="#505050" stroke-width="0.85" stroke-dasharray="1 1.5"/>
<circle cx="864.35" cy="633.27" r="3.0"/>
<circle cx="875.25" cy="633.27" r="3.0"/>
<circle cx="847.5" cy="656.95" r="3.0"/>
<circle cx="858.65" cy="656.95" r="3.0"/>
<circle cx="869.8" cy="656.95" r="3.0"/>
<circle cx="880.95" cy="656.95" r="3.0"/>
<circle cx="892.1" cy="656.95" r="3.0"/>
<circle cx="853.15" cy="680.62" r="3.0"/>
<circle cx="864.25" cy="680.62" r="3.0"/>
<circle cx="875.35" cy="680.62" r="3.0"/>
<circle cx="886.45" cy="680.62" r="3.0"/>
<circle cx="869.8" cy="704.3" r="3.0"/>
<circle cx="864.35" cy="727.98" r="3.0"/>
<circle cx="875.25" cy="727.98" r="3.0"/>
<line x1="859.43" y1="668.79" x2="880.17" y2="668.79" stroke="#f01414" stroke-width="1" stroke-dasharray="1.6 1.4"/>
<line x1="727.55" y1="561.62" x2="727.55" y2="752.27" stroke="#000" stroke-width="1.5"/>
<line x1="726.8" y1="751.65" x2="917.9" y2="751.65" stroke="#000" stroke-width="1.25"/>
<line x1="723.55" y1="751.65" x2="727.55" y2="751.65" stroke="#000" stroke-width="1.25"/>
<text transform="translate(721.55 756.13) rotate(0.05) scale(1 1.03)" font-size="14.4" text-anchor="end" font-weight="bold">0</text>
<line x1="723.55" y1="704.3" x2="727.55" y2="704.3" stroke="#000" stroke-width="1.25"/>
<text transform="translate(721.55 708.78) rotate(0.05) scale(1 1.03)" font-size="14.4" text-anchor="end" font-weight="bold">1</text>
<line x1="723.55" y1="656.95" x2="727.55" y2="656.95" stroke="#000" stroke-width="1.25"/>
<text transform="translate(721.55 661.43) rotate(0.05) scale(1 1.03)" font-size="14.4" text-anchor="end" font-weight="bold">2</text>
<line x1="723.55" y1="609.6" x2="727.55" y2="609.6" stroke="#000" stroke-width="1.25"/>
<text transform="translate(721.55 614.08) rotate(0.05) scale(1 1.03)" font-size="14.4" text-anchor="end" font-weight="bold">3</text>
<line x1="723.55" y1="562.25" x2="727.55" y2="562.25" stroke="#000" stroke-width="1.25"/>
<text transform="translate(721.55 566.73) rotate(0.05) scale(1 1.03)" font-size="14.4" text-anchor="end" font-weight="bold">4</text>
<line x1="775" y1="751.65" x2="775" y2="755.65" stroke="#000" stroke-width="1.5"/>
<text transform="translate(781.2 770.1) rotate(-45)" font-size="17.5" text-anchor="end" font-weight="bold">Ctns<tspan font-weight="normal" stroke="#000" stroke-width="0.19" font-size="12.86" dx="0.7" dy="-9.1">-/-</tspan></text>
<line x1="869.8" y1="751.65" x2="869.8" y2="755.65" stroke="#000" stroke-width="1.5"/>
<text transform="translate(876 770.1) rotate(-45)" font-size="17.5" text-anchor="end" font-weight="bold">Ctns<tspan font-weight="normal" stroke="#000" stroke-width="0.19" font-size="12.86" dx="0.7" dy="-9.1">-/-</tspan><tspan dx="0.35" dy="9.1">Nlrp2</tspan><tspan font-weight="normal" stroke="#000" stroke-width="0.19" font-size="12.86" dx="0.7" dy="-9.1">-/-</tspan></text>
<text transform="translate(1247.8 59.6) rotate(0.05)" font-size="25" text-anchor="middle" font-weight="bold">Global kidney</text>
<text transform="translate(1249.4 88) rotate(0.05)" font-size="25" text-anchor="middle" font-weight="bold">damage score</text>
<text transform="translate(1084 269.2) rotate(-90.05) scale(1.0412 1)" font-size="24.3" text-anchor="middle" font-weight="bold">score</text>
<path d="M1190.56 356.5 L1190.56 355.23 L1190.6 353.96 L1190.68 352.69 L1190.79 351.43 L1190.94 350.16 L1191.1 348.89 L1191.29 347.62 L1191.5 346.35 L1191.72 345.08 L1191.94 343.82 L1192.17 342.55 L1192.38 341.28 L1192.59 340.01 L1192.77 338.74 L1192.93 337.47 L1193.05 336.21 L1193.14 334.94 L1193.18 333.67 L1193.17 332.4 L1193.11 331.13 L1192.99 329.86 L1192.81 328.59 L1192.57 327.33 L1192.26 326.06 L1191.88 324.79 L1191.43 323.52 L1190.91 322.25 L1190.33 320.98 L1189.67 319.72 L1188.95 318.45 L1188.17 317.18 L1187.32 315.91 L1186.42 314.64 L1185.47 313.37 L1184.47 312.1 L1183.43 310.84 L1182.35 309.57 L1181.23 308.3 L1180.1 307.03 L1178.94 305.76 L1177.76 304.49 L1176.58 303.23 L1175.4 301.96 L1174.22 300.69 L1173.05 299.42 L1171.89 298.15 L1170.74 296.88 L1169.62 295.62 L1168.52 294.35 L1167.45 293.08 L1166.41 291.81 L1165.41 290.54 L1164.43 289.27 L1163.5 288 L1162.6 286.74 L1161.73 285.47 L1160.91 284.2 L1160.12 282.93 L1159.38 281.66 L1158.67 280.39 L1158.01 279.13 L1157.38 277.86 L1156.8 276.59 L1156.26 275.32 L1155.76 274.05 L1155.3 272.78 L1154.89 271.51 L1154.53 270.25 L1154.21 268.98 L1153.95 267.71 L1153.73 266.44 L1153.58 265.17 L1153.47 263.9 L1153.43 262.64 L1153.45 261.37 L1153.53 260.1 L1153.68 258.83 L1153.9 257.56 L1154.19 256.29 L1154.55 255.03 L1154.98 253.76 L1155.48 252.49 L1156.05 251.22 L1156.69 249.95 L1157.4 248.68 L1158.18 247.41 L1159.01 246.15 L1159.9 244.88 L1160.84 243.61 L1161.82 242.34 L1162.84 241.07 L1163.88 239.8 L1164.95 238.54 L1166.03 237.27 L1167.11 236 L1168.18 234.73 L1169.24 233.46 L1170.28 232.19 L1171.29 230.92 L1172.26 229.66 L1173.19 228.39 L1174.06 227.12 L1174.88 225.85 L1175.63 224.58 L1176.32 223.31 L1176.94 222.05 L1177.5 220.78 L1177.98 219.51 L1178.4 218.24 L1178.75 216.97 L1179.03 215.7 L1179.25 214.44 L1179.4 213.17 L1179.51 211.9 L1179.56 210.63 L1179.57 209.36 L1179.55 208.09 L1179.49 206.82 L1179.41 205.56 L1179.32 204.29 L1179.22 203.02 L1179.11 201.75 L1179.02 200.48 L1178.94 199.21 L1178.87 197.95 L1178.84 196.68 L1178.83 195.41 L1178.86 194.14 L1178.93 192.87 L1179.04 191.6 L1179.19 190.33 L1179.39 189.07 L1179.62 187.8 L1179.9 186.53 L1180.21 185.26 L1180.56 183.99 L1180.93 182.72 L1181.33 181.46 L1181.75 180.19 L1182.18 178.92 L1182.62 177.65 L1183.06 176.38 L1183.49 175.11 L1183.92 173.84 L1184.34 172.58 L1184.74 171.31 L1185.12 170.04 L1185.49 168.77 L1185.84 167.5 L1186.16 166.23 L1186.47 164.97 L1186.77 163.7 L1187.04 162.43 L1187.31 161.16 L1187.57 159.89 L1187.82 158.62 L1188.08 157.36 L1188.33 156.09 L1188.59 154.82 L1188.85 153.55 L1208.55 153.55 L1208.81 154.82 L1209.07 156.09 L1209.32 157.36 L1209.58 158.62 L1209.83 159.89 L1210.09 161.16 L1210.36 162.43 L1210.63 163.7 L1210.93 164.97 L1211.24 166.23 L1211.56 167.5 L1211.91 168.77 L1212.28 170.04 L1212.66 171.31 L1213.06 172.58 L1213.48 173.84 L1213.91 175.11 L1214.34 176.38 L1214.78 177.65 L1215.22 178.92 L1215.65 180.19 L1216.07 181.46 L1216.47 182.72 L1216.84 183.99 L1217.19 185.26 L1217.5 186.53 L1217.78 187.8 L1218.01 189.07 L1218.21 190.33 L1218.36 191.6 L1218.47 192.87 L1218.54 194.14 L1218.57 195.41 L1218.56 196.68 L1218.53 197.95 L1218.46 199.21 L1218.38 200.48 L1218.29 201.75 L1218.18 203.02 L1218.08 204.29 L1217.99 205.56 L1217.91 206.82 L1217.85 208.09 L1217.83 209.36 L1217.84 210.63 L1217.89 211.9 L1218 213.17 L1218.15 214.44 L1218.37 215.7 L1218.65 216.97 L1219 218.24 L1219.42 219.51 L1219.9 220.78 L1220.46 222.05 L1221.08 223.31 L1221.77 224.58 L1222.52 225.85 L1223.34 227.12 L1224.21 228.39 L1225.14 229.66 L1226.11 230.92 L1227.12 232.19 L1228.16 233.46 L1229.22 234.73 L1230.29 236 L1231.37 237.27 L1232.45 238.54 L1233.52 239.8 L1234.56 241.07 L1235.58 242.34 L1236.56 243.61 L1237.5 244.88 L1238.39 246.15 L1239.22 247.41 L1240 248.68 L1240.71 249.95 L1241.35 251.22 L1241.92 252.49 L1242.42 253.76 L1242.85 255.03 L1243.21 256.29 L1243.5 257.56 L1243.72 258.83 L1243.87 260.1 L1243.95 261.37 L1243.97 262.64 L1243.93 263.9 L1243.82 265.17 L1243.67 266.44 L1243.45 267.71 L1243.19 268.98 L1242.87 270.25 L1242.51 271.51 L1242.1 272.78 L1241.64 274.05 L1241.14 275.32 L1240.6 276.59 L1240.02 277.86 L1239.39 279.13 L1238.73 280.39 L1238.02 281.66 L1237.28 282.93 L1236.49 284.2 L1235.67 285.47 L1234.8 286.74 L1233.9 288 L1232.97 289.27 L1231.99 290.54 L1230.99 291.81 L1229.95 293.08 L1228.88 294.35 L1227.78 295.62 L1226.66 296.88 L1225.51 298.15 L1224.35 299.42 L1223.18 300.69 L1222 301.96 L1220.82 303.23 L1219.64 304.49 L1218.46 305.76 L1217.3 307.03 L1216.17 308.3 L1215.05 309.57 L1213.97 310.84 L1212.93 312.1 L1211.93 313.37 L1210.98 314.64 L1210.08 315.91 L1209.23 317.18 L1208.45 318.45 L1207.73 319.72 L1207.07 320.98 L1206.49 322.25 L1205.97 323.52 L1205.52 324.79 L1205.14 326.06 L1204.83 327.33 L1204.59 328.59 L1204.41 329.86 L1204.29 331.13 L1204.23 332.4 L1204.22 333.67 L1204.26 334.94 L1204.35 336.21 L1204.47 337.47 L1204.63 338.74 L1204.81 340.01 L1205.02 341.28 L1205.23 342.55 L1205.46 343.82 L1205.68 345.08 L1205.9 346.35 L1206.11 347.62 L1206.3 348.89 L1206.46 350.16 L1206.61 351.43 L1206.72 352.69 L1206.8 353.96 L1206.84 355.23 L1206.84 356.5 Z" fill="#d4d4d4" stroke="#000" stroke-width="2.7" stroke-linejoin="round"/>
<line x1="1183.38" y1="211.48" x2="1214.02" y2="211.48" stroke="#2c2c2c" stroke-width="1.25" stroke-dasharray="1 2.2"/>
<line x1="1165.71" y1="285.65" x2="1231.69" y2="285.65" stroke="#2c2c2c" stroke-width="1.25" stroke-dasharray="1 2.2"/>
<circle cx="1198.7" cy="153.55" r="4.4"/>
<circle cx="1190.62" cy="190.45" r="4.4"/>
<circle cx="1206.78" cy="190.45" r="4.4"/>
<circle cx="1198.7" cy="218.13" r="4.4"/>
<circle cx="1182.6" cy="245.8" r="4.4"/>
<circle cx="1198.7" cy="245.8" r="4.4"/>
<circle cx="1214.8" cy="245.8" r="4.4"/>
<circle cx="1190.62" cy="264.25" r="4.4"/>
<circle cx="1206.78" cy="264.25" r="4.4"/>
<circle cx="1198.7" cy="273.48" r="4.4"/>
<circle cx="1198.7" cy="282.7" r="4.4"/>
<circle cx="1198.7" cy="291.93" r="4.4"/>
<circle cx="1198.7" cy="301.15" r="4.4"/>
<circle cx="1198.7" cy="356.5" r="4.4"/>
<line x1="1155.9" y1="255.03" x2="1241.5" y2="255.03" stroke="#f01414" stroke-width="1.1" stroke-dasharray="3 1.9"/>
<path d="M1328.21 374.95 L1328.25 373.57 L1328.37 372.18 L1328.57 370.8 L1328.83 369.42 L1329.16 368.03 L1329.55 366.65 L1329.98 365.26 L1330.45 363.88 L1330.94 362.5 L1331.45 361.11 L1331.96 359.73 L1332.46 358.35 L1332.95 356.96 L1333.41 355.58 L1333.84 354.19 L1334.23 352.81 L1334.57 351.43 L1334.86 350.04 L1335.09 348.66 L1335.26 347.28 L1335.36 345.89 L1335.39 344.51 L1335.35 343.12 L1335.23 341.74 L1335.02 340.36 L1334.72 338.97 L1334.32 337.59 L1333.82 336.21 L1333.21 334.82 L1332.48 333.44 L1331.63 332.05 L1330.65 330.67 L1329.54 329.29 L1328.3 327.9 L1326.92 326.52 L1325.41 325.13 L1323.77 323.75 L1322.01 322.37 L1320.14 320.98 L1318.18 319.6 L1316.13 318.22 L1314.03 316.83 L1311.9 315.45 L1309.75 314.07 L1307.63 312.68 L1305.55 311.3 L1303.55 309.91 L1301.65 308.53 L1299.88 307.15 L1298.27 305.76 L1296.84 304.38 L1295.6 303 L1294.58 301.61 L1293.78 300.23 L1293.2 298.84 L1292.84 297.46 L1292.7 296.08 L1292.77 294.69 L1293.01 293.31 L1293.42 291.93 L1293.98 290.54 L1294.64 289.16 L1295.39 287.77 L1296.19 286.39 L1297.02 285.01 L1297.85 283.62 L1298.65 282.24 L1299.41 280.86 L1300.1 279.47 L1300.7 278.09 L1301.21 276.7 L1301.62 275.32 L1301.93 273.94 L1302.12 272.55 L1302.21 271.17 L1302.2 269.79 L1302.09 268.4 L1301.9 267.02 L1301.62 265.63 L1301.28 264.25 L1300.87 262.87 L1300.41 261.48 L1299.92 260.1 L1299.39 258.72 L1298.85 257.33 L1298.3 255.95 L1297.76 254.56 L1297.24 253.18 L1296.76 251.8 L1296.32 250.41 L1295.94 249.03 L1295.64 247.65 L1295.43 246.26 L1295.34 244.88 L1295.36 243.49 L1295.52 242.11 L1295.83 240.73 L1296.29 239.34 L1296.91 237.96 L1297.7 236.58 L1298.65 235.19 L1299.77 233.81 L1301.04 232.42 L1302.46 231.04 L1304.01 229.66 L1305.67 228.27 L1307.43 226.89 L1309.26 225.51 L1311.15 224.12 L1313.06 222.74 L1314.98 221.35 L1316.88 219.97 L1318.75 218.59 L1320.57 217.2 L1322.31 215.82 L1323.96 214.44 L1325.52 213.05 L1326.97 211.67 L1328.31 210.28 L1329.54 208.9 L1330.64 207.52 L1331.63 206.13 L1332.51 204.75 L1333.28 203.37 L1333.95 201.98 L1334.53 200.6 L1335.01 199.21 L1335.42 197.83 L1335.74 196.45 L1336 195.06 L1336.2 193.68 L1336.34 192.3 L1336.43 190.91 L1336.46 189.53 L1336.45 188.14 L1336.39 186.76 L1336.29 185.38 L1336.15 183.99 L1335.96 182.61 L1335.73 181.23 L1335.46 179.84 L1335.14 178.46 L1334.79 177.07 L1334.39 175.69 L1333.97 174.31 L1333.51 172.92 L1333.02 171.54 L1332.51 170.16 L1332 168.77 L1331.48 167.39 L1330.96 166 L1330.46 164.62 L1329.99 163.24 L1329.56 161.85 L1329.17 160.47 L1328.84 159.09 L1328.57 157.7 L1328.37 156.32 L1328.25 154.93 L1328.21 153.55 L1346.59 153.55 L1346.55 154.93 L1346.43 156.32 L1346.23 157.7 L1345.96 159.09 L1345.63 160.47 L1345.24 161.85 L1344.81 163.24 L1344.34 164.62 L1343.84 166 L1343.32 167.39 L1342.8 168.77 L1342.29 170.16 L1341.78 171.54 L1341.29 172.92 L1340.83 174.31 L1340.41 175.69 L1340.01 177.07 L1339.66 178.46 L1339.34 179.84 L1339.07 181.23 L1338.84 182.61 L1338.65 183.99 L1338.51 185.38 L1338.41 186.76 L1338.35 188.14 L1338.34 189.53 L1338.37 190.91 L1338.46 192.3 L1338.6 193.68 L1338.8 195.06 L1339.06 196.45 L1339.38 197.83 L1339.79 199.21 L1340.27 200.6 L1340.85 201.98 L1341.52 203.37 L1342.29 204.75 L1343.17 206.13 L1344.16 207.52 L1345.26 208.9 L1346.49 210.28 L1347.83 211.67 L1349.28 213.05 L1350.84 214.44 L1352.49 215.82 L1354.23 217.2 L1356.05 218.59 L1357.92 219.97 L1359.82 221.35 L1361.74 222.74 L1363.65 224.12 L1365.54 225.51 L1367.37 226.89 L1369.13 228.27 L1370.79 229.66 L1372.34 231.04 L1373.76 232.42 L1375.03 233.81 L1376.15 235.19 L1377.1 236.58 L1377.89 237.96 L1378.51 239.34 L1378.97 240.73 L1379.28 242.11 L1379.44 243.49 L1379.46 244.88 L1379.37 246.26 L1379.16 247.65 L1378.86 249.03 L1378.48 250.41 L1378.04 251.8 L1377.56 253.18 L1377.04 254.56 L1376.5 255.95 L1375.95 257.33 L1375.41 258.72 L1374.88 260.1 L1374.39 261.48 L1373.93 262.87 L1373.52 264.25 L1373.18 265.63 L1372.9 267.02 L1372.71 268.4 L1372.6 269.79 L1372.59 271.17 L1372.68 272.55 L1372.87 273.94 L1373.18 275.32 L1373.59 276.7 L1374.1 278.09 L1374.7 279.47 L1375.39 280.86 L1376.15 282.24 L1376.95 283.62 L1377.78 285.01 L1378.61 286.39 L1379.41 287.77 L1380.16 289.16 L1380.82 290.54 L1381.38 291.93 L1381.79 293.31 L1382.03 294.69 L1382.1 296.08 L1381.96 297.46 L1381.6 298.84 L1381.02 300.23 L1380.22 301.61 L1379.2 303 L1377.96 304.38 L1376.53 305.76 L1374.92 307.15 L1373.15 308.53 L1371.25 309.91 L1369.25 311.3 L1367.17 312.68 L1365.05 314.07 L1362.9 315.45 L1360.77 316.83 L1358.67 318.22 L1356.62 319.6 L1354.66 320.98 L1352.79 322.37 L1351.03 323.75 L1349.39 325.13 L1347.88 326.52 L1346.5 327.9 L1345.26 329.29 L1344.15 330.67 L1343.17 332.05 L1342.32 333.44 L1341.59 334.82 L1340.98 336.21 L1340.48 337.59 L1340.08 338.97 L1339.78 340.36 L1339.57 341.74 L1339.45 343.12 L1339.41 344.51 L1339.44 345.89 L1339.54 347.28 L1339.71 348.66 L1339.94 350.04 L1340.23 351.43 L1340.57 352.81 L1340.96 354.19 L1341.39 355.58 L1341.85 356.96 L1342.34 358.35 L1342.84 359.73 L1343.35 361.11 L1343.86 362.5 L1344.35 363.88 L1344.82 365.26 L1345.25 366.65 L1345.64 368.03 L1345.97 369.42 L1346.23 370.8 L1346.43 372.18 L1346.55 373.57 L1346.59 374.95 Z" fill="#fff" stroke="#000" stroke-width="2.7" stroke-linejoin="round"/>
<line x1="1302.05" y1="236.58" x2="1372.75" y2="236.58" stroke="#2c2c2c" stroke-width="1.25" stroke-dasharray="1 2.2"/>
<line x1="1298.64" y1="301.15" x2="1376.16" y2="301.15" stroke="#2c2c2c" stroke-width="1.25" stroke-dasharray="1 2.2"/>
<circle cx="1337.4" cy="153.55" r="4.4"/>
<circle cx="1337.4" cy="227.35" r="4.4"/>
<circle cx="1329.33" cy="236.58" r="4.4"/>
<circle cx="1345.48" cy="236.58" r="4.4"/>
<circle cx="1337.4" cy="245.8" r="4.4"/>
<circle cx="1337.4" cy="255.03" r="4.4"/>
<circle cx="1337.4" cy="264.25" r="4.4"/>
<circle cx="1337.4" cy="273.48" r="4.4"/>
<circle cx="1329.33" cy="291.93" r="4.4"/>
<circle cx="1345.48" cy="291.93" r="4.4"/>
<circle cx="1329.33" cy="301.15" r="4.4"/>
<circle cx="1345.48" cy="301.15" r="4.4"/>
<circle cx="1337.4" cy="310.38" r="4.4"/>
<circle cx="1337.4" cy="374.95" r="4.4"/>
<line x1="1303.49" y1="268.86" x2="1371.31" y2="268.86" stroke="#f01414" stroke-width="1.1" stroke-dasharray="3 1.9"/>
<line x1="1129.8" y1="134.1" x2="1129.8" y2="412.85" stroke="#000" stroke-width="2.3"/>
<line x1="1128.65" y1="411.85" x2="1407" y2="411.85" stroke="#000" stroke-width="2.0"/>
<line x1="1123.3" y1="411.85" x2="1129.8" y2="411.85" stroke="#000" stroke-width="2.0"/>
<text transform="translate(1121.3 419.54) rotate(0.05) scale(1 1.03)" font-size="21.5" text-anchor="end" font-weight="bold">0</text>
<line x1="1123.3" y1="319.6" x2="1129.8" y2="319.6" stroke="#000" stroke-width="2.0"/>
<text transform="translate(1121.3 327.29) rotate(0.05) scale(1 1.03)" font-size="21.5" text-anchor="end" font-weight="bold">5</text>
<line x1="1123.3" y1="227.35" x2="1129.8" y2="227.35" stroke="#000" stroke-width="2.0"/>
<text transform="translate(1121.3 235.04) rotate(0.05) scale(1 1.03)" font-size="21.5" text-anchor="end" font-weight="bold">10</text>
<line x1="1123.3" y1="135.1" x2="1129.8" y2="135.1" stroke="#000" stroke-width="2.0"/>
<text transform="translate(1121.3 142.79) rotate(0.05) scale(1 1.03)" font-size="21.5" text-anchor="end" font-weight="bold">15</text>
<line x1="1198.7" y1="411.85" x2="1198.7" y2="417.55" stroke="#000" stroke-width="2.3"/>
<text transform="translate(1207.7 438.9) rotate(-45)" font-size="25.3" text-anchor="end" font-weight="bold">Ctns<tspan font-weight="normal" stroke="#000" stroke-width="0.28" font-size="18.6" dx="1.01" dy="-13.16">-/-</tspan></text>
<line x1="1337.4" y1="411.85" x2="1337.4" y2="417.55" stroke="#000" stroke-width="2.3"/>
<text transform="translate(1346.4 438.9) rotate(-45)" font-size="25.3" text-anchor="end" font-weight="bold">Ctns<tspan font-weight="normal" stroke="#000" stroke-width="0.28" font-size="18.6" dx="1.01" dy="-13.16">-/-</tspan><tspan dx="0.51" dy="13.16">Nlrp2</tspan><tspan font-weight="normal" stroke="#000" stroke-width="0.28" font-size="18.6" dx="1.01" dy="-13.16">-/-</tspan></text>
<text transform="translate(-0.6 24) rotate(0.05)" font-size="30" font-weight="bold">A</text>
<text transform="translate(1065 24) rotate(0.05)" font-size="30" font-weight="bold">B</text>
</svg>
</body></html>
